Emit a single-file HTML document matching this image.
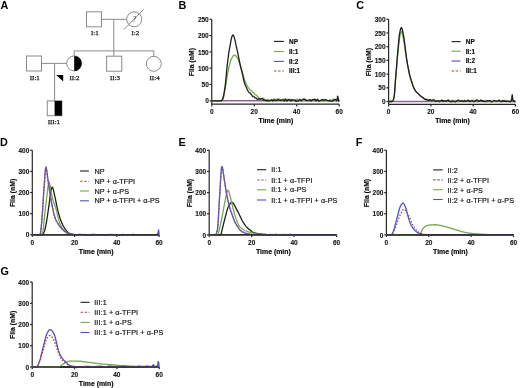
<!DOCTYPE html>
<html><head><meta charset="utf-8"><title>Figure</title>
<style>html,body{margin:0;padding:0;background:#fff;width:520px;height:388px;overflow:hidden}svg{display:block;filter:blur(0.35px)}</style>
</head><body>
<svg width="520" height="388" viewBox="0 0 520 388"><text x="0.6" y="8.8" font-family="'Liberation Sans', sans-serif" font-weight="bold" font-size="10.8" fill="#000">A</text>
<text x="178.6" y="8.8" font-family="'Liberation Sans', sans-serif" font-weight="bold" font-size="10.8" fill="#000">B</text>
<text x="356.2" y="9.0" font-family="'Liberation Sans', sans-serif" font-weight="bold" font-size="10.8" fill="#000">C</text>
<text x="0.0" y="146.3" font-family="'Liberation Sans', sans-serif" font-weight="bold" font-size="10.8" fill="#000">D</text>
<text x="178.6" y="146.3" font-family="'Liberation Sans', sans-serif" font-weight="bold" font-size="10.8" fill="#000">E</text>
<text x="355.8" y="146.1" font-family="'Liberation Sans', sans-serif" font-weight="bold" font-size="10.8" fill="#000">F</text>
<text x="0.4" y="275.2" font-family="'Liberation Sans', sans-serif" font-weight="bold" font-size="10.8" fill="#000">G</text>
<g stroke="#8a8a8a" stroke-width="1" fill="none"><rect x="86.5" y="11.8" width="15" height="15" /><line x1="101.5" y1="19.3" x2="126.7" y2="19.3" /><circle cx="134.2" cy="19.3" r="7.5" /><line x1="123.8" y1="29.6" x2="143.8" y2="9.3" /><line x1="113.8" y1="19.3" x2="113.8" y2="56.2" /><line x1="74.2" y1="50.9" x2="153.8" y2="50.9" /><line x1="74.2" y1="50.9" x2="74.2" y2="55.9" /><line x1="153.8" y1="50.9" x2="153.8" y2="56.3" /><rect x="26.5" y="56" width="15" height="15" /><line x1="41.5" y1="63.4" x2="66.7" y2="63.4" /><circle cx="74.2" cy="63.4" r="7.5" /><line x1="54.6" y1="63.4" x2="54.6" y2="100.9" /><rect x="47.3" y="100.9" width="14.6" height="14.8" /><rect x="106.6" y="56.2" width="15.2" height="15" /><circle cx="153.8" cy="63.8" r="7.5" /></g>
<path d="M74.2,55.9 A7.5,7.5 0 0 1 74.2,70.9 Z" fill="#000"/>
<rect x="54.6" y="100.9" width="7.3" height="14.8" fill="#000"/>
<path d="M56.2,75.1 L63.2,75.1 L63.2,81.4 Z" fill="#000"/>
<text x="134.3" y="22.2" text-anchor="middle" font-family="'Liberation Serif', serif" font-style="italic" font-size="8" fill="#3a3a3a">?</text>
<g font-family="'Liberation Serif', serif" font-size="7" fill="#1a1a1a" stroke="#1a1a1a" stroke-width="0.25" text-anchor="middle"><text x="94.9" y="35.1">I:1</text><text x="135.4" y="35.1">I:2</text><text x="34.8" y="80.3">II:1</text><text x="74.5" y="79.69999999999999">II:2</text><text x="115" y="79.5">II:3</text><text x="154.6" y="79.5">II:4</text><text x="53.9" y="124.39999999999999">III:1</text></g>
<g stroke="#262626" stroke-width="1.2" fill="none"><line x1="211.75" y1="19.3" x2="211.75" y2="104.2" /><line x1="209.55" y1="100.80" x2="211.75" y2="100.80" /><line x1="209.55" y1="84.50" x2="211.75" y2="84.50" /><line x1="209.55" y1="68.20" x2="211.75" y2="68.20" /><line x1="209.55" y1="51.90" x2="211.75" y2="51.90" /><line x1="209.55" y1="35.60" x2="211.75" y2="35.60" /><line x1="209.55" y1="19.30" x2="211.75" y2="19.30" /><line x1="211.75" y1="104.2" x2="339.2" y2="104.2" /><line x1="211.75" y1="104.2" x2="211.75" y2="106.4" /><line x1="254.23" y1="104.2" x2="254.23" y2="106.4" /><line x1="296.72" y1="104.2" x2="296.72" y2="106.4" /><line x1="339.20" y1="104.2" x2="339.20" y2="106.4" /></g>
<g font-family="'Liberation Sans', sans-serif" font-weight="bold" font-size="6.5" fill="#111" stroke="#111" stroke-width="0.1"><text x="208.75" y="103.40" text-anchor="end">0</text><text x="208.75" y="87.10" text-anchor="end">50</text><text x="208.75" y="70.80" text-anchor="end">100</text><text x="208.75" y="54.50" text-anchor="end">150</text><text x="208.75" y="38.20" text-anchor="end">200</text><text x="208.75" y="21.90" text-anchor="end">250</text><text x="211.75" y="114.05" text-anchor="middle">0</text><text x="254.23" y="114.05" text-anchor="middle">20</text><text x="296.72" y="114.05" text-anchor="middle">40</text><text x="339.20" y="114.05" text-anchor="middle">60</text></g>
<text transform="translate(194.15,62.15) rotate(-90)" text-anchor="middle" font-family="'Liberation Sans', sans-serif" font-weight="bold" font-size="6.9" fill="#000" stroke="#000" stroke-width="0.15">FIIa (nM)</text>
<text x="275.98" y="123.10" text-anchor="middle" font-family="'Liberation Sans', sans-serif" font-weight="bold" font-size="6.9" fill="#000" stroke="#000" stroke-width="0.15">Time (min)</text>
<path d="M211.75,100.80 L339.20,100.80" fill="none" stroke="#8a6890" stroke-width="1.625" stroke-linejoin="round" opacity="1.0"/>
<path d="M211.75,100.80 L212.28,100.80 L212.81,100.80 L213.34,100.80 L213.87,100.80 L214.41,100.80 L214.94,100.80 L215.47,100.80 L216.00,100.80 L216.53,100.80 L217.06,100.80 L217.59,100.80 L218.12,100.80 L218.65,100.80 L219.18,100.80 L219.72,100.80 L220.25,100.80 L220.78,100.80 L221.31,100.80 L221.84,100.60 L222.37,100.07 L222.90,99.33 L223.43,98.06 L223.96,95.67 L224.50,92.57 L225.03,89.24 L225.56,86.13 L226.09,83.15 L226.62,79.98 L227.15,76.76 L227.68,73.63 L228.21,70.73 L228.74,68.20 L229.27,65.89 L229.81,63.68 L230.34,61.68 L230.87,60.04 L231.40,58.87 L231.93,57.91 L232.46,57.01 L232.99,56.23 L233.52,55.63 L234.05,55.26 L234.58,55.17 L235.12,55.36 L235.65,55.78 L236.18,56.36 L236.71,57.05 L237.24,57.77 L237.77,58.67 L238.30,59.84 L238.83,61.18 L239.36,62.57 L239.90,64.13 L240.43,65.84 L240.96,67.64 L241.49,69.49 L242.02,71.32 L242.55,73.09 L243.08,74.87 L243.61,76.68 L244.14,78.44 L244.67,80.03 L245.21,81.39 L245.74,82.67 L246.27,83.88 L246.80,84.99 L247.33,86.01 L247.86,86.92 L248.39,87.71 L248.92,88.42 L249.45,89.07 L249.99,89.66 L250.52,90.08 L251.05,90.43 L251.58,90.94 L252.11,91.58 L252.64,92.18 L253.17,92.40 L253.70,92.63 L254.23,93.25 L254.76,94.06 L255.30,94.71 L255.83,94.98 L256.36,95.17 L256.89,95.71 L257.42,96.14 L257.95,96.85 L258.48,97.84 L259.01,98.70 L259.54,98.91 L260.07,99.09 L260.61,99.22 L261.14,99.32 L261.67,99.14 L262.20,98.56 L262.73,97.94 L263.26,98.53 L263.79,99.12 L264.32,99.28 L264.85,99.18 L265.39,99.16 L265.92,99.54 L266.45,99.90 L266.98,99.86 L267.51,99.72 L268.04,99.69 L268.57,99.85 L269.10,100.00 L269.63,100.06 L270.16,100.12 L270.70,100.02 L271.23,99.81 L271.76,99.64 L272.29,99.65 L272.82,99.66 L273.35,99.42 L273.88,99.13 L274.41,99.04 L274.94,99.26 L275.48,99.47 L276.01,99.25 L276.54,99.02 L277.07,98.98 L277.60,99.05 L278.13,99.09 L278.66,98.97 L279.19,98.85 L279.72,99.07 L280.25,99.38 L280.79,99.76 L281.32,100.25 L281.85,100.74 L282.38,100.09 L282.91,99.43 L283.44,99.11 L283.97,99.02 L284.50,98.95 L285.03,99.02 L285.56,99.08 L286.10,99.35 L286.63,99.68 L287.16,99.82 L287.69,99.68 L288.22,99.55 L288.75,100.03 L289.28,100.52 L289.81,100.36 L290.34,99.77 L290.88,99.36 L291.41,99.61 L291.94,99.85 L292.47,100.13 L293.00,100.41 L293.53,100.66 L294.06,100.87 L294.59,101.09 L295.12,100.34 L295.65,99.59 L296.19,99.22 L296.72,99.09 L297.25,99.16 L297.78,100.02 L298.31,100.88 L298.84,100.52 L299.37,99.84 L299.90,99.59 L300.43,99.96 L300.96,100.33 L301.50,100.58 L302.03,100.83 L302.56,100.85 L303.09,100.72 L303.62,100.52 L304.15,100.08 L304.68,99.63 L305.21,99.46 L305.74,99.36 L306.28,99.62 L306.81,100.41 L307.34,101.20 L307.87,100.66 L308.40,100.12 L308.93,100.23 L309.46,100.78 L309.99,101.08 L310.52,100.44 L311.05,99.81 L311.59,99.98 L312.12,100.35 L312.65,100.36 L313.18,99.84 L313.71,99.32 L314.24,99.23 L314.77,99.13 L315.30,99.37 L315.83,99.82 L316.37,100.09 L316.90,99.62 L317.43,99.16 L317.96,99.59 L318.49,100.25 L319.02,100.73 L319.55,100.95 L320.08,101.18 L320.61,100.68 L321.14,100.19 L321.68,100.32 L322.21,100.86 L322.74,101.26 L323.27,101.11 L323.80,100.95 L324.33,100.76 L324.86,100.56 L325.39,100.37 L325.92,100.18 L326.45,99.99 L326.99,100.42 L327.52,100.86 L328.05,101.10 L328.58,101.21 L329.11,101.14 L329.64,100.36 L330.17,99.57 L330.70,99.84 L331.23,100.37 L331.77,100.44 L332.30,99.83 L332.83,99.22 L333.36,99.29 L333.89,99.35 L334.42,99.67 L334.95,100.17 L335.48,100.55 L336.01,100.47 L336.54,100.40 L337.08,100.34 L337.61,100.29 L338.14,100.21 L338.67,100.10 L339.20,99.98" fill="none" stroke="#74a848" stroke-width="1.3" stroke-linejoin="round" opacity="1.0"/>
<path d="M211.75,100.80 L212.28,100.80 L212.81,100.80 L213.34,100.80 L213.87,100.80 L214.41,100.80 L214.94,100.80 L215.47,100.80 L216.00,100.80 L216.53,100.80 L217.06,100.80 L217.59,100.80 L218.12,100.80 L218.65,100.80 L219.18,100.80 L219.72,100.80 L220.25,100.80 L220.78,100.80 L221.31,100.75 L221.84,100.25 L222.37,99.39 L222.90,98.24 L223.43,96.26 L223.96,93.56 L224.50,90.33 L225.03,86.78 L225.56,82.61 L226.09,77.00 L226.62,71.06 L227.15,65.98 L227.68,61.49 L228.21,57.24 L228.74,53.34 L229.27,49.94 L229.81,47.03 L230.34,44.08 L230.87,41.23 L231.40,38.67 L231.93,36.63 L232.46,35.32 L232.99,34.96 L233.52,35.53 L234.05,36.83 L234.58,38.68 L235.12,40.92 L235.65,43.37 L236.18,45.85 L236.71,48.20 L237.24,50.46 L237.77,52.94 L238.30,55.57 L238.83,58.27 L239.36,60.94 L239.90,63.50 L240.43,65.86 L240.96,68.06 L241.49,70.17 L242.02,72.28 L242.55,74.46 L243.08,76.86 L243.61,79.50 L244.14,81.86 L244.67,83.62 L245.21,85.07 L245.74,86.24 L246.27,87.28 L246.80,88.50 L247.33,89.70 L247.86,90.70 L248.39,91.59 L248.92,92.27 L249.45,92.65 L249.99,92.93 L250.52,93.54 L251.05,94.13 L251.58,94.86 L252.11,95.71 L252.64,96.44 L253.17,96.46 L253.70,96.41 L254.23,96.94 L254.76,97.62 L255.30,98.05 L255.83,98.17 L256.36,98.25 L256.89,98.92 L257.42,99.56 L257.95,99.47 L258.48,98.89 L259.01,98.46 L259.54,98.79 L260.07,99.10 L260.61,99.01 L261.14,98.82 L261.67,98.75 L262.20,98.87 L262.73,98.99 L263.26,99.59 L263.79,100.19 L264.32,100.40 L264.85,100.35 L265.39,100.34 L265.92,100.54 L266.45,100.73 L266.98,100.79 L267.51,100.81 L268.04,100.86 L268.57,100.94 L269.10,101.02 L269.63,100.80 L270.16,100.58 L270.70,100.33 L271.23,100.04 L271.76,99.93 L272.29,100.51 L272.82,101.08 L273.35,100.69 L273.88,100.05 L274.41,99.80 L274.94,100.13 L275.48,100.46 L276.01,100.49 L276.54,100.52 L277.07,100.24 L277.60,99.76 L278.13,99.44 L278.66,99.77 L279.19,100.09 L279.72,100.29 L280.25,100.45 L280.79,100.48 L281.32,100.33 L281.85,100.17 L282.38,99.96 L282.91,99.75 L283.44,100.04 L283.97,100.66 L284.50,100.98 L285.03,100.11 L285.56,99.24 L286.10,99.79 L286.63,100.70 L287.16,100.97 L287.69,100.28 L288.22,99.59 L288.75,99.51 L289.28,99.42 L289.81,99.86 L290.34,100.64 L290.88,101.13 L291.41,100.40 L291.94,99.67 L292.47,99.85 L293.00,100.25 L293.53,100.41 L294.06,100.21 L294.59,100.01 L295.12,100.55 L295.65,101.10 L296.19,101.29 L296.72,101.26 L297.25,101.21 L297.78,101.08 L298.31,100.96 L298.84,100.34 L299.37,99.61 L299.90,99.46 L300.43,100.18 L300.96,100.90 L301.50,100.37 L302.03,99.84 L302.56,99.53 L303.09,99.37 L303.62,99.23 L304.15,99.22 L304.68,99.21 L305.21,99.67 L305.74,100.24 L306.28,100.57 L306.81,100.57 L307.34,100.56 L307.87,100.40 L308.40,100.24 L308.93,100.03 L309.46,99.79 L309.99,99.73 L310.52,100.37 L311.05,101.00 L311.59,100.64 L312.12,100.03 L312.65,99.65 L313.18,99.61 L313.71,99.56 L314.24,99.50 L314.77,99.44 L315.30,99.89 L315.83,100.67 L316.37,101.13 L316.90,100.27 L317.43,99.40 L317.96,99.88 L318.49,100.69 L319.02,101.09 L319.55,100.85 L320.08,100.62 L320.61,100.36 L321.14,100.10 L321.68,99.83 L322.21,99.54 L322.74,99.41 L323.27,99.97 L323.80,100.52 L324.33,100.18 L324.86,99.63 L325.39,99.44 L325.92,99.80 L326.45,100.16 L326.99,100.39 L327.52,100.61 L328.05,100.70 L328.58,100.69 L329.11,100.72 L329.64,100.85 L330.17,100.99 L330.70,101.09 L331.23,101.19 L331.77,101.22 L332.30,101.15 L332.83,101.09 L333.36,100.58 L333.89,100.06 L334.42,99.68 L334.95,99.39 L335.48,99.32 L336.01,100.12 L336.54,100.91 L337.08,99.69 L337.61,96.14 L338.14,98.05 L338.67,101.18 L339.20,99.64" fill="none" stroke="#1e1e1e" stroke-width="1.3" stroke-linejoin="round" opacity="1.0"/>
<line x1="274" y1="41.4" x2="283.9" y2="41.4" stroke="#1e1e1e" stroke-width="1.1"/><text x="289.1" y="43.70" letter-spacing="0.0" font-family="'Liberation Sans', sans-serif" font-size="6.4" font-weight="bold" fill="#111" stroke="#111" stroke-width="0.18">NP</text><line x1="274" y1="51.5" x2="283.9" y2="51.5" stroke="#74a848" stroke-width="1.1"/><text x="289.1" y="53.80" letter-spacing="0.0" font-family="'Liberation Sans', sans-serif" font-size="6.4" font-weight="bold" fill="#111" stroke="#111" stroke-width="0.18">II:1</text><line x1="274" y1="61.4" x2="283.9" y2="61.4" stroke="#5050c8" stroke-width="1.1"/><text x="289.1" y="63.70" letter-spacing="0.0" font-family="'Liberation Sans', sans-serif" font-size="6.4" font-weight="bold" fill="#111" stroke="#111" stroke-width="0.18">II:2</text><line x1="274" y1="71.0" x2="283.9" y2="71.0" stroke="#98553c" stroke-width="1.1" stroke-dasharray="2.5,1.6"/><text x="289.1" y="73.30" letter-spacing="0.0" font-family="'Liberation Sans', sans-serif" font-size="6.4" font-weight="bold" fill="#111" stroke="#111" stroke-width="0.18">III:1</text>
<g stroke="#262626" stroke-width="1.2" fill="none"><line x1="388.6" y1="19.3" x2="388.6" y2="104.3" /><line x1="386.40000000000003" y1="101.50" x2="388.6" y2="101.50" /><line x1="386.40000000000003" y1="87.80" x2="388.6" y2="87.80" /><line x1="386.40000000000003" y1="74.10" x2="388.6" y2="74.10" /><line x1="386.40000000000003" y1="60.40" x2="388.6" y2="60.40" /><line x1="386.40000000000003" y1="46.70" x2="388.6" y2="46.70" /><line x1="386.40000000000003" y1="33.00" x2="388.6" y2="33.00" /><line x1="386.40000000000003" y1="19.30" x2="388.6" y2="19.30" /><line x1="388.6" y1="104.3" x2="515.4" y2="104.3" /><line x1="388.60" y1="104.3" x2="388.60" y2="106.5" /><line x1="430.87" y1="104.3" x2="430.87" y2="106.5" /><line x1="473.13" y1="104.3" x2="473.13" y2="106.5" /><line x1="515.40" y1="104.3" x2="515.40" y2="106.5" /></g>
<g font-family="'Liberation Sans', sans-serif" font-weight="bold" font-size="6.5" fill="#111" stroke="#111" stroke-width="0.1"><text x="385.60" y="104.10" text-anchor="end">0</text><text x="385.60" y="90.40" text-anchor="end">50</text><text x="385.60" y="76.70" text-anchor="end">100</text><text x="385.60" y="63.00" text-anchor="end">150</text><text x="385.60" y="49.30" text-anchor="end">200</text><text x="385.60" y="35.60" text-anchor="end">250</text><text x="385.60" y="21.90" text-anchor="end">300</text><text x="388.60" y="114.15" text-anchor="middle">0</text><text x="430.87" y="114.15" text-anchor="middle">20</text><text x="473.13" y="114.15" text-anchor="middle">40</text><text x="515.40" y="114.15" text-anchor="middle">60</text></g>
<text transform="translate(371.00,62.20) rotate(-90)" text-anchor="middle" font-family="'Liberation Sans', sans-serif" font-weight="bold" font-size="6.9" fill="#000" stroke="#000" stroke-width="0.15">FIIa (nM)</text>
<text x="452.50" y="123.20" text-anchor="middle" font-family="'Liberation Sans', sans-serif" font-weight="bold" font-size="6.9" fill="#000" stroke="#000" stroke-width="0.15">Time (min)</text>
<path d="M388.60,101.50 L515.40,101.50" fill="none" stroke="#8a6890" stroke-width="1.625" stroke-linejoin="round" opacity="1.0"/>
<path d="M388.60,101.50 L389.13,101.50 L389.66,101.50 L390.19,101.50 L390.71,101.50 L391.24,101.50 L391.77,101.50 L392.30,101.40 L392.83,100.86 L393.36,99.99 L393.88,98.03 L394.41,94.77 L394.94,88.39 L395.47,80.81 L396.00,75.03 L396.53,68.90 L397.05,62.31 L397.58,56.47 L398.11,51.09 L398.64,45.39 L399.17,39.94 L399.69,36.91 L400.22,34.39 L400.75,32.52 L401.28,31.63 L401.81,32.02 L402.34,33.64 L402.87,36.00 L403.39,38.59 L403.92,41.49 L404.45,45.15 L404.98,48.80 L405.51,52.10 L406.04,55.31 L406.56,58.48 L407.09,61.68 L407.62,64.83 L408.15,67.75 L408.68,70.47 L409.21,73.04 L409.73,75.35 L410.26,77.32 L410.79,79.03 L411.32,80.62 L411.85,82.23 L412.38,83.91 L412.90,85.53 L413.43,86.94 L413.96,88.13 L414.49,89.19 L415.02,90.20 L415.55,91.03 L416.07,91.61 L416.60,92.08 L417.13,92.67 L417.66,93.25 L418.19,93.76 L418.72,94.25 L419.24,94.75 L419.77,95.27 L420.30,95.83 L420.83,96.31 L421.36,96.78 L421.88,97.11 L422.41,97.30 L422.94,97.52 L423.47,98.18 L424.00,98.82 L424.53,98.93 L425.06,98.86 L425.58,98.84 L426.11,98.95 L426.64,99.04 L427.17,99.40 L427.70,99.74 L428.23,99.86 L428.75,99.83 L429.28,99.90 L429.81,100.39 L430.34,100.88 L430.87,101.06 L431.39,101.15 L431.92,101.19 L432.45,101.15 L432.98,101.10 L433.51,100.78 L434.04,100.44 L434.56,100.44 L435.09,100.66 L435.62,100.84 L436.15,100.94 L436.68,101.04 L437.21,100.89 L437.74,100.68 L438.26,100.60 L438.79,100.71 L439.32,100.82 L439.85,100.95 L440.38,101.08 L440.90,100.90 L441.43,100.51 L441.96,100.21 L442.49,100.29 L443.02,100.37 L443.55,100.69 L444.07,101.06 L444.60,101.17 L445.13,100.91 L445.66,100.66 L446.19,100.70 L446.72,100.74 L447.25,100.60 L447.77,100.32 L448.30,100.13 L448.83,100.25 L449.36,100.37 L449.89,100.68 L450.42,101.03 L450.94,101.03 L451.47,100.48 L452.00,99.93 L452.53,100.62 L453.06,101.32 L453.58,101.45 L454.11,101.22 L454.64,100.97 L455.17,100.71 L455.70,100.44 L456.23,100.77 L456.75,101.26 L457.28,101.45 L457.81,101.18 L458.34,100.92 L458.87,101.28 L459.40,101.64 L459.93,101.49 L460.45,100.99 L460.98,100.57 L461.51,100.50 L462.04,100.42 L462.57,100.53 L463.09,100.69 L463.62,100.69 L464.15,100.45 L464.68,100.21 L465.21,100.66 L465.74,101.11 L466.26,101.11 L466.79,100.81 L467.32,100.58 L467.85,100.66 L468.38,100.75 L468.91,100.77 L469.44,100.79 L469.96,100.84 L470.49,100.94 L471.02,101.04 L471.55,100.73 L472.08,100.43 L472.61,100.26 L473.13,100.17 L473.66,100.18 L474.19,100.56 L474.72,100.94 L475.25,100.89 L475.77,100.74 L476.30,100.85 L476.83,101.33 L477.36,101.82 L477.89,101.30 L478.42,100.79 L478.94,100.62 L479.47,100.66 L480.00,100.64 L480.53,100.37 L481.06,100.09 L481.59,100.15 L482.12,100.29 L482.64,100.54 L483.17,100.97 L483.70,101.40 L484.23,101.32 L484.76,101.24 L485.28,101.08 L485.81,100.85 L486.34,100.78 L486.87,101.29 L487.40,101.81 L487.93,101.63 L488.45,101.28 L488.98,101.17 L489.51,101.41 L490.04,101.64 L490.57,101.68 L491.10,101.73 L491.62,101.77 L492.15,101.82 L492.68,101.74 L493.21,101.18 L493.74,100.61 L494.27,100.91 L494.79,101.42 L495.32,101.69 L495.85,101.60 L496.38,101.50 L496.91,101.39 L497.44,101.28 L497.96,101.00 L498.49,100.62 L499.02,100.44 L499.55,101.07 L500.08,101.71 L500.61,101.60 L501.13,101.31 L501.66,101.10 L502.19,101.02 L502.72,100.94 L503.25,100.68 L503.78,100.41 L504.30,100.34 L504.83,100.39 L505.36,100.43 L505.89,100.39 L506.42,100.36 L506.95,100.73 L507.47,101.20 L508.00,101.44 L508.53,101.33 L509.06,101.22 L509.59,101.27 L510.12,101.32 L510.64,101.09 L511.17,100.67 L511.70,100.32 L512.23,100.27 L512.76,100.21 L513.29,100.72 L513.81,101.36 L514.34,101.75 L514.87,101.73 L515.40,101.71" fill="none" stroke="#74a848" stroke-width="1.3" stroke-linejoin="round" opacity="1.0"/>
<path d="M388.60,101.50 L389.13,101.50 L389.66,101.50 L390.19,101.50 L390.71,101.50 L391.24,101.50 L391.77,101.50 L392.30,101.39 L392.83,100.82 L393.36,99.91 L393.88,97.83 L394.41,94.38 L394.94,87.63 L395.47,79.61 L396.00,73.49 L396.53,67.00 L397.05,60.03 L397.58,53.85 L398.11,48.15 L398.64,42.13 L399.17,36.36 L399.69,33.16 L400.22,30.48 L400.75,28.51 L401.28,27.56 L401.81,27.97 L402.34,29.69 L402.87,32.18 L403.39,34.93 L403.92,37.93 L404.45,41.70 L404.98,45.72 L405.51,49.97 L406.04,54.45 L406.56,58.48 L407.09,61.86 L407.62,64.91 L408.15,67.75 L408.68,70.47 L409.21,73.04 L409.73,75.35 L410.26,77.32 L410.79,79.03 L411.32,80.62 L411.85,82.23 L412.38,83.91 L412.90,85.53 L413.43,86.94 L413.96,88.13 L414.49,89.18 L415.02,90.11 L415.55,90.92 L416.07,91.63 L416.60,92.24 L417.13,92.67 L417.66,93.04 L418.19,93.57 L418.72,94.19 L419.24,94.75 L419.77,95.20 L420.30,95.66 L420.83,96.05 L421.36,96.41 L421.88,96.81 L422.41,97.22 L422.94,97.61 L423.47,98.07 L424.00,98.49 L424.53,98.93 L425.06,99.38 L425.58,99.68 L426.11,99.73 L426.64,99.75 L427.17,99.94 L427.70,100.12 L428.23,100.22 L428.75,100.27 L429.28,100.25 L429.81,99.93 L430.34,99.61 L430.87,100.01 L431.39,100.59 L431.92,100.75 L432.45,100.28 L432.98,99.79 L433.51,99.85 L434.04,99.90 L434.56,100.33 L435.09,101.00 L435.62,101.49 L436.15,101.24 L436.68,100.98 L437.21,100.87 L437.74,100.78 L438.26,100.88 L438.79,101.26 L439.32,101.64 L439.85,101.33 L440.38,101.02 L440.90,100.66 L441.43,100.28 L441.96,100.11 L442.49,100.75 L443.02,101.39 L443.55,101.21 L444.07,100.83 L444.60,100.75 L445.13,101.14 L445.66,101.52 L446.19,101.16 L446.72,100.80 L447.25,100.51 L447.77,100.26 L448.30,100.17 L448.83,100.73 L449.36,101.29 L449.89,101.53 L450.42,101.69 L450.94,101.76 L451.47,101.71 L452.00,101.65 L452.53,101.29 L453.06,100.93 L453.58,101.04 L454.11,101.46 L454.64,101.79 L455.17,101.74 L455.70,101.68 L456.23,101.41 L456.75,101.09 L457.28,100.76 L457.81,100.42 L458.34,100.09 L458.87,100.49 L459.40,100.89 L459.93,101.07 L460.45,101.09 L460.98,101.07 L461.51,100.88 L462.04,100.69 L462.57,101.00 L463.09,101.44 L463.62,101.55 L464.15,101.16 L464.68,100.77 L465.21,101.10 L465.74,101.43 L466.26,101.35 L466.79,101.01 L467.32,100.67 L467.85,100.40 L468.38,100.12 L468.91,100.64 L469.44,101.37 L469.96,101.64 L470.49,101.25 L471.02,100.85 L471.55,100.81 L472.08,100.77 L472.61,100.97 L473.13,101.34 L473.66,101.62 L474.19,101.52 L474.72,101.43 L475.25,100.95 L475.77,100.37 L476.30,100.02 L476.83,100.02 L477.36,100.02 L477.89,100.72 L478.42,101.42 L478.94,101.42 L479.47,100.96 L480.00,100.55 L480.53,100.35 L481.06,100.16 L481.59,100.58 L482.12,101.15 L482.64,101.37 L483.17,101.07 L483.70,100.78 L484.23,101.23 L484.76,101.69 L485.28,101.71 L485.81,101.46 L486.34,101.20 L486.87,100.96 L487.40,100.71 L487.93,100.72 L488.45,100.79 L488.98,100.77 L489.51,100.62 L490.04,100.48 L490.57,101.03 L491.10,101.58 L491.62,101.68 L492.15,101.47 L492.68,101.22 L493.21,100.81 L493.74,100.40 L494.27,100.50 L494.79,100.72 L495.32,100.90 L495.85,101.01 L496.38,101.11 L496.91,101.15 L497.44,101.19 L497.96,100.93 L498.49,100.47 L499.02,100.16 L499.55,100.49 L500.08,100.82 L500.61,101.24 L501.13,101.69 L501.66,101.71 L502.19,101.09 L502.72,100.46 L503.25,100.84 L503.78,101.22 L504.30,101.32 L504.83,101.24 L505.36,101.21 L505.89,101.39 L506.42,101.56 L506.95,101.45 L507.47,101.27 L508.00,101.20 L508.53,101.30 L509.06,101.40 L509.59,101.59 L510.12,101.78 L510.64,101.60 L511.17,101.17 L511.70,98.44 L512.23,94.75 L512.76,99.29 L513.29,101.40 L513.81,100.86 L514.34,100.78 L514.87,101.39 L515.40,102.00" fill="none" stroke="#1e1e1e" stroke-width="1.3" stroke-linejoin="round" opacity="1.0"/>
<line x1="451.6" y1="41.6" x2="460.6" y2="41.6" stroke="#1e1e1e" stroke-width="1.1"/><text x="465.8" y="43.90" letter-spacing="0.0" font-family="'Liberation Sans', sans-serif" font-size="6.4" font-weight="bold" fill="#111" stroke="#111" stroke-width="0.18">NP</text><line x1="451.6" y1="51.2" x2="460.6" y2="51.2" stroke="#74a848" stroke-width="1.1"/><text x="465.8" y="53.50" letter-spacing="0.0" font-family="'Liberation Sans', sans-serif" font-size="6.4" font-weight="bold" fill="#111" stroke="#111" stroke-width="0.18">II:1</text><line x1="451.6" y1="61.0" x2="460.6" y2="61.0" stroke="#5050c8" stroke-width="1.1"/><text x="465.8" y="63.30" letter-spacing="0.0" font-family="'Liberation Sans', sans-serif" font-size="6.4" font-weight="bold" fill="#111" stroke="#111" stroke-width="0.18">II:2</text><line x1="451.6" y1="71.0" x2="460.6" y2="71.0" stroke="#98553c" stroke-width="1.1" stroke-dasharray="2.5,1.6"/><text x="465.8" y="73.30" letter-spacing="0.0" font-family="'Liberation Sans', sans-serif" font-size="6.4" font-weight="bold" fill="#111" stroke="#111" stroke-width="0.18">III:1</text>
<g stroke="#262626" stroke-width="1.2" fill="none"><line x1="32.3" y1="150.3" x2="32.3" y2="234.8" /><line x1="30.099999999999998" y1="234.80" x2="32.3" y2="234.80" /><line x1="30.099999999999998" y1="213.68" x2="32.3" y2="213.68" /><line x1="30.099999999999998" y1="192.55" x2="32.3" y2="192.55" /><line x1="30.099999999999998" y1="171.43" x2="32.3" y2="171.43" /><line x1="30.099999999999998" y1="150.30" x2="32.3" y2="150.30" /><line x1="32.3" y1="234.8" x2="159.1" y2="234.8" /><line x1="32.30" y1="234.8" x2="32.30" y2="237.0" /><line x1="74.57" y1="234.8" x2="74.57" y2="237.0" /><line x1="116.83" y1="234.8" x2="116.83" y2="237.0" /><line x1="159.10" y1="234.8" x2="159.10" y2="237.0" /></g>
<g font-family="'Liberation Sans', sans-serif" font-weight="bold" font-size="6.5" fill="#111" stroke="#111" stroke-width="0.1"><text x="29.30" y="237.40" text-anchor="end">0</text><text x="29.30" y="216.28" text-anchor="end">100</text><text x="29.30" y="195.15" text-anchor="end">200</text><text x="29.30" y="174.03" text-anchor="end">300</text><text x="29.30" y="152.90" text-anchor="end">400</text><text x="32.30" y="244.65" text-anchor="middle">0</text><text x="74.57" y="244.65" text-anchor="middle">20</text><text x="116.83" y="244.65" text-anchor="middle">40</text><text x="159.10" y="244.65" text-anchor="middle">60</text></g>
<text transform="translate(14.70,192.95) rotate(-90)" text-anchor="middle" font-family="'Liberation Sans', sans-serif" font-weight="bold" font-size="6.9" fill="#000" stroke="#000" stroke-width="0.15">FIIa (nM)</text>
<text x="96.20" y="253.70" text-anchor="middle" font-family="'Liberation Sans', sans-serif" font-weight="bold" font-size="6.9" fill="#000" stroke="#000" stroke-width="0.15">Time (min)</text>
<path d="M32.30,234.80 L32.83,234.80 L33.36,234.80 L33.88,234.80 L34.41,234.80 L34.94,234.80 L35.47,234.80 L36.00,234.80 L36.53,234.80 L37.05,234.80 L37.58,234.80 L38.11,234.80 L38.64,234.80 L39.17,234.80 L39.70,234.80 L40.22,234.80 L40.75,234.80 L41.28,234.80 L41.81,234.80 L42.34,234.61 L42.87,234.10 L43.39,233.35 L43.92,232.44 L44.45,231.29 L44.98,229.39 L45.51,227.00 L46.04,224.46 L46.56,221.54 L47.09,218.25 L47.62,214.79 L48.15,211.22 L48.68,207.43 L49.21,203.56 L49.73,199.69 L50.26,195.54 L50.79,192.02 L51.32,189.47 L51.85,187.47 L52.38,187.16 L52.91,188.20 L53.43,190.08 L53.96,192.44 L54.49,194.93 L55.02,197.21 L55.55,199.62 L56.07,202.26 L56.60,204.96 L57.13,207.56 L57.66,209.87 L58.19,211.95 L58.72,213.94 L59.24,215.81 L59.77,217.53 L60.30,219.09 L60.83,220.50 L61.36,221.83 L61.89,223.09 L62.41,224.26 L62.94,225.34 L63.47,226.32 L64.00,227.20 L64.53,228.00 L65.06,228.77 L65.58,229.51 L66.11,230.20 L66.64,230.84 L67.17,231.42 L67.70,231.93 L68.23,232.38 L68.75,232.76 L69.28,233.10 L69.81,233.42 L70.34,233.72 L70.87,233.97 L71.40,234.18 L71.92,234.32 L72.45,234.40 L72.98,234.47 L73.51,234.52 L74.04,234.57 L74.57,234.61 L75.09,234.65 L75.62,234.68 L76.15,234.70 L76.68,234.72 L77.21,234.69 L77.74,234.64 L78.27,234.61 L78.79,234.60 L79.32,234.59 L79.85,234.59 L80.38,234.60 L80.91,234.61 L81.44,234.63 L81.96,234.66 L82.49,234.72 L83.02,234.79 L83.55,234.82 L84.08,234.84 L84.60,234.85 L85.13,234.84 L85.66,234.85 L86.19,234.91 L86.72,234.97 L87.25,234.85 L87.78,234.67 L88.30,234.60 L88.83,234.70 L89.36,234.79 L89.89,234.68 L90.42,234.56 L90.94,234.59 L91.47,234.71 L92.00,234.78 L92.53,234.63 L93.06,234.48 L93.59,234.47 L94.12,234.50 L94.64,234.61 L95.17,234.84 L95.70,235.06 L96.23,235.01 L96.76,234.95 L97.28,234.82 L97.81,234.64 L98.34,234.51 L98.87,234.63 L99.40,234.75 L99.93,234.66 L100.45,234.53 L100.98,234.51 L101.51,234.66 L102.04,234.82 L102.57,234.91 L103.10,234.99 L103.62,234.94 L104.15,234.79 L104.68,234.67 L105.21,234.63 L105.74,234.59 L106.27,234.69 L106.79,234.83 L107.32,234.93 L107.85,234.97 L108.38,235.02 L108.91,234.96 L109.44,234.90 L109.96,234.77 L110.49,234.60 L111.02,234.48 L111.55,234.54 L112.08,234.59 L112.61,234.74 L113.13,234.91 L113.66,235.00 L114.19,234.96 L114.72,234.93 L115.25,234.97 L115.78,235.01 L116.31,235.03 L116.83,235.04 L117.36,235.01 L117.89,234.82 L118.42,234.62 L118.95,234.71 L119.47,234.88 L120.00,234.94 L120.53,234.84 L121.06,234.74 L121.59,234.76 L122.12,234.79 L122.64,234.85 L123.17,234.92 L123.70,234.94 L124.23,234.80 L124.76,234.66 L125.29,234.76 L125.81,234.91 L126.34,234.96 L126.87,234.82 L127.40,234.69 L127.93,234.82 L128.46,234.96 L128.98,234.97 L129.51,234.89 L130.04,234.84 L130.57,234.89 L131.10,234.95 L131.63,234.95 L132.16,234.93 L132.68,234.85 L133.21,234.67 L133.74,234.48 L134.27,234.53 L134.80,234.57 L135.32,234.67 L135.85,234.80 L136.38,234.87 L136.91,234.72 L137.44,234.57 L137.97,234.68 L138.50,234.86 L139.02,234.95 L139.55,234.90 L140.08,234.85 L140.61,234.73 L141.14,234.61 L141.66,234.59 L142.19,234.65 L142.72,234.72 L143.25,234.87 L143.78,235.01 L144.31,234.85 L144.83,234.62 L145.36,234.56 L145.89,234.76 L146.42,234.97 L146.95,234.96 L147.48,234.95 L148.00,234.86 L148.53,234.72 L149.06,234.64 L149.59,234.76 L150.12,234.88 L150.65,234.91 L151.18,234.92 L151.70,234.94 L152.23,235.00 L152.76,235.06 L153.29,235.06 L153.82,235.06 L154.34,234.98 L154.87,234.85 L155.40,234.76 L155.93,234.85 L156.46,234.94 L156.99,234.88 L157.51,234.79 L158.04,234.76 L158.57,234.82 L159.10,234.88" fill="none" stroke="#1e1e1e" stroke-width="1.3" stroke-linejoin="round" opacity="1.0"/>
<path d="M32.30,234.80 L32.83,234.80 L33.36,234.80 L33.88,234.80 L34.41,234.80 L34.94,234.80 L35.47,234.80 L36.00,234.80 L36.53,234.80 L37.05,234.80 L37.58,234.80 L38.11,234.80 L38.64,234.80 L39.17,234.80 L39.70,234.80 L40.22,234.80 L40.75,234.78 L41.28,234.51 L41.81,233.98 L42.34,233.23 L42.87,232.00 L43.39,228.10 L43.92,222.40 L44.45,216.51 L44.98,211.72 L45.51,207.19 L46.04,202.76 L46.56,198.54 L47.09,194.48 L47.62,189.84 L48.15,185.47 L48.68,182.55 L49.21,182.20 L49.73,184.15 L50.26,187.12 L50.79,189.88 L51.32,192.63 L51.85,195.48 L52.38,198.03 L52.91,200.01 L53.43,201.66 L53.96,203.11 L54.49,204.46 L55.02,205.82 L55.55,207.29 L56.07,208.96 L56.60,210.97 L57.13,213.21 L57.66,215.54 L58.19,217.82 L58.72,219.89 L59.24,221.62 L59.77,223.01 L60.30,224.30 L60.83,225.49 L61.36,226.58 L61.89,227.55 L62.41,228.39 L62.94,229.10 L63.47,229.71 L64.00,230.28 L64.53,230.80 L65.06,231.28 L65.58,231.71 L66.11,232.08 L66.64,232.41 L67.17,232.69 L67.70,232.93 L68.23,233.16 L68.75,233.38 L69.28,233.58 L69.81,233.77 L70.34,233.94 L70.87,234.08 L71.40,234.21 L71.92,234.30 L72.45,234.38 L72.98,234.44 L73.51,234.49 L74.04,234.54 L74.57,234.59 L75.09,234.64 L75.62,234.68 L76.15,234.72 L76.68,234.78 L77.21,234.78 L77.74,234.77 L78.27,234.79 L78.79,234.85 L79.32,234.90 L79.85,234.90 L80.38,234.90 L80.91,234.84 L81.44,234.75 L81.96,234.71 L82.49,234.77 L83.02,234.84 L83.55,234.84 L84.08,234.84 L84.60,234.82 L85.13,234.78 L85.66,234.75 L86.19,234.78 L86.72,234.81 L87.25,234.83 L87.78,234.86 L88.30,234.91 L88.83,235.00 L89.36,235.10 L89.89,234.91 L90.42,234.73 L90.94,234.62 L91.47,234.55 L92.00,234.50 L92.53,234.50 L93.06,234.50 L93.59,234.56 L94.12,234.65 L94.64,234.73 L95.17,234.81 L95.70,234.89 L96.23,234.89 L96.76,234.89 L97.28,234.83 L97.81,234.75 L98.34,234.68 L98.87,234.68 L99.40,234.69 L99.93,234.81 L100.45,234.96 L100.98,235.03 L101.51,235.00 L102.04,234.97 L102.57,234.93 L103.10,234.90 L103.62,234.86 L104.15,234.82 L104.68,234.78 L105.21,234.70 L105.74,234.62 L106.27,234.67 L106.79,234.75 L107.32,234.85 L107.85,234.97 L108.38,235.10 L108.91,234.89 L109.44,234.68 L109.96,234.66 L110.49,234.76 L111.02,234.84 L111.55,234.82 L112.08,234.79 L112.61,234.85 L113.13,234.93 L113.66,234.95 L114.19,234.90 L114.72,234.85 L115.25,234.86 L115.78,234.87 L116.31,234.81 L116.83,234.71 L117.36,234.66 L117.89,234.84 L118.42,235.02 L118.95,234.96 L119.47,234.84 L120.00,234.81 L120.53,234.91 L121.06,235.00 L121.59,234.87 L122.12,234.73 L122.64,234.78 L123.17,234.95 L123.70,235.08 L124.23,235.02 L124.76,234.95 L125.29,234.93 L125.81,234.91 L126.34,234.87 L126.87,234.79 L127.40,234.71 L127.93,234.87 L128.46,235.02 L128.98,235.02 L129.51,234.91 L130.04,234.84 L130.57,234.91 L131.10,234.97 L131.63,234.97 L132.16,234.95 L132.68,234.92 L133.21,234.87 L133.74,234.82 L134.27,234.69 L134.80,234.56 L135.32,234.58 L135.85,234.71 L136.38,234.79 L136.91,234.66 L137.44,234.54 L137.97,234.68 L138.50,234.89 L139.02,234.93 L139.55,234.73 L140.08,234.53 L140.61,234.68 L141.14,234.83 L141.66,234.91 L142.19,234.96 L142.72,234.97 L143.25,234.82 L143.78,234.67 L144.31,234.61 L144.83,234.56 L145.36,234.63 L145.89,234.87 L146.42,235.11 L146.95,235.04 L147.48,234.97 L148.00,234.87 L148.53,234.73 L149.06,234.65 L149.59,234.76 L150.12,234.88 L150.65,234.92 L151.18,234.95 L151.70,234.99 L152.23,235.05 L152.76,235.11 L153.29,235.10 L153.82,235.09 L154.34,235.00 L154.87,234.85 L155.40,234.71 L155.93,234.61 L156.46,234.51 L156.99,234.49 L157.51,234.49 L158.04,234.54 L158.57,234.67 L159.10,234.80" fill="none" stroke="#74a848" stroke-width="1.3" stroke-linejoin="round" opacity="1.0"/>
<path d="M32.30,234.80 L32.83,234.80 L33.36,234.80 L33.88,234.80 L34.41,234.80 L34.94,234.80 L35.47,234.80 L36.00,234.80 L36.53,234.80 L37.05,234.80 L37.58,234.80 L38.11,234.80 L38.64,234.80 L39.17,234.80 L39.70,234.61 L40.22,233.93 L40.75,231.44 L41.28,226.62 L41.81,220.53 L42.34,213.53 L42.87,205.70 L43.39,197.27 L43.92,189.32 L44.45,182.03 L44.98,174.29 L45.51,168.42 L46.04,166.88 L46.56,169.13 L47.09,173.12 L47.62,177.26 L48.15,180.74 L48.68,184.29 L49.21,187.85 L49.73,191.34 L50.26,194.86 L50.79,198.29 L51.32,201.42 L51.85,204.23 L52.38,206.83 L52.91,209.25 L53.43,211.55 L53.96,213.80 L54.49,215.87 L55.02,217.61 L55.55,218.98 L56.07,220.19 L56.60,221.27 L57.13,222.24 L57.66,223.14 L58.19,223.98 L58.72,224.78 L59.24,225.52 L59.77,226.23 L60.30,226.89 L60.83,227.52 L61.36,228.11 L61.89,228.69 L62.41,229.26 L62.94,229.81 L63.47,230.33 L64.00,230.81 L64.53,231.25 L65.06,231.63 L65.58,231.97 L66.11,232.30 L66.64,232.62 L67.17,232.91 L67.70,233.17 L68.23,233.40 L68.75,233.59 L69.28,233.74 L69.81,233.87 L70.34,234.00 L70.87,234.12 L71.40,234.23 L71.92,234.33 L72.45,234.42 L72.98,234.50 L73.51,234.55 L74.04,234.59 L74.57,234.61 L75.09,234.63 L75.62,234.65 L76.15,234.69 L76.68,234.72 L77.21,234.64 L77.74,234.53 L78.27,234.49 L78.79,234.49 L79.32,234.48 L79.85,234.44 L80.38,234.39 L80.91,234.42 L81.44,234.48 L81.96,234.54 L82.49,234.57 L83.02,234.61 L83.55,234.56 L84.08,234.51 L84.60,234.59 L85.13,234.75 L85.66,234.86 L86.19,234.72 L86.72,234.57 L87.25,234.60 L87.78,234.66 L88.30,234.73 L88.83,234.80 L89.36,234.87 L89.89,234.87 L90.42,234.87 L90.94,234.81 L91.47,234.73 L92.00,234.68 L92.53,234.75 L93.06,234.83 L93.59,234.80 L94.12,234.75 L94.64,234.70 L95.17,234.66 L95.70,234.63 L96.23,234.68 L96.76,234.74 L97.28,234.81 L97.81,234.88 L98.34,234.92 L98.87,234.82 L99.40,234.73 L99.93,234.77 L100.45,234.84 L100.98,234.88 L101.51,234.88 L102.04,234.88 L102.57,234.89 L103.10,234.90 L103.62,234.88 L104.15,234.84 L104.68,234.82 L105.21,234.90 L105.74,234.98 L106.27,234.87 L106.79,234.72 L107.32,234.60 L107.85,234.52 L108.38,234.44 L108.91,234.59 L109.44,234.74 L109.96,234.75 L110.49,234.66 L111.02,234.58 L111.55,234.53 L112.08,234.47 L112.61,234.65 L113.13,234.88 L113.66,235.02 L114.19,234.99 L114.72,234.96 L115.25,234.79 L115.78,234.62 L116.31,234.54 L116.83,234.53 L117.36,234.54 L117.89,234.59 L118.42,234.64 L118.95,234.76 L119.47,234.88 L120.00,234.93 L120.53,234.87 L121.06,234.80 L121.59,234.68 L122.12,234.56 L122.64,234.51 L123.17,234.51 L123.70,234.51 L124.23,234.53 L124.76,234.55 L125.29,234.69 L125.81,234.84 L126.34,234.87 L126.87,234.70 L127.40,234.53 L127.93,234.66 L128.46,234.78 L128.98,234.78 L129.51,234.69 L130.04,234.65 L130.57,234.80 L131.10,234.96 L131.63,234.81 L132.16,234.59 L132.68,234.50 L133.21,234.60 L133.74,234.69 L134.27,234.66 L134.80,234.63 L135.32,234.70 L135.85,234.84 L136.38,234.92 L136.91,234.82 L137.44,234.71 L137.97,234.70 L138.50,234.71 L139.02,234.71 L139.55,234.71 L140.08,234.71 L140.61,234.77 L141.14,234.83 L141.66,234.80 L142.19,234.70 L142.72,234.65 L143.25,234.75 L143.78,234.85 L144.31,234.88 L144.83,234.90 L145.36,234.92 L145.89,234.95 L146.42,234.99 L146.95,234.85 L147.48,234.72 L148.00,234.75 L148.53,234.90 L149.06,235.02 L149.59,234.99 L150.12,234.96 L150.65,234.99 L151.18,235.03 L151.70,235.00 L152.23,234.85 L152.76,234.70 L153.29,234.72 L153.82,234.74 L154.34,234.76 L154.87,234.76 L155.40,234.79 L155.93,234.92 L156.46,235.06 L156.99,235.00 L157.51,234.90 L158.04,232.40 L158.57,229.98 L159.10,234.08" fill="none" stroke="#5050c8" stroke-width="1.3" stroke-linejoin="round" opacity="1.0"/>
<path d="M32.30,234.80 L32.83,234.80 L33.36,234.80 L33.88,234.80 L34.41,234.80 L34.94,234.80 L35.47,234.80 L36.00,234.80 L36.53,234.80 L37.05,234.80 L37.58,234.80 L38.11,234.80 L38.64,234.80 L39.17,234.80 L39.70,234.61 L40.22,233.94 L40.75,231.49 L41.28,226.75 L41.81,220.74 L42.34,213.85 L42.87,206.14 L43.39,197.83 L43.92,190.00 L44.45,182.82 L44.98,175.20 L45.51,169.42 L46.04,167.90 L46.56,170.11 L47.09,174.04 L47.62,178.13 L48.15,181.55 L48.68,185.05 L49.21,188.55 L49.73,191.99 L50.26,195.46 L50.79,198.84 L51.32,201.92 L51.85,204.69 L52.38,207.25 L52.91,209.64 L53.43,211.90 L53.96,214.12 L54.49,216.15 L55.02,217.86 L55.55,219.22 L56.07,220.41 L56.60,221.47 L57.13,222.43 L57.66,223.31 L58.19,224.14 L58.72,224.93 L59.24,225.66 L59.77,226.36 L60.30,227.01 L60.83,227.63 L61.36,228.21 L61.89,228.78 L62.41,229.34 L62.94,229.88 L63.47,230.40 L64.00,230.87 L64.53,231.30 L65.06,231.68 L65.58,232.02 L66.11,232.34 L66.64,232.65 L67.17,232.93 L67.70,233.19 L68.23,233.42 L68.75,233.61 L69.28,233.76 L69.81,233.89 L70.34,234.01 L70.87,234.13 L71.40,234.23 L71.92,234.33 L72.45,234.42 L72.98,234.49 L73.51,234.54 L74.04,234.58 L74.57,234.59 L75.09,234.60 L75.62,234.60 L76.15,234.60 L76.68,234.61 L77.21,234.61 L77.74,234.61 L78.27,234.62 L78.79,234.62 L79.32,234.62 L79.85,234.62 L80.38,234.63 L80.91,234.63 L81.44,234.63 L81.96,234.64 L82.49,234.64 L83.02,234.64 L83.55,234.65 L84.08,234.65 L84.60,234.65 L85.13,234.65 L85.66,234.66 L86.19,234.66 L86.72,234.66 L87.25,234.66 L87.78,234.67 L88.30,234.67 L88.83,234.67 L89.36,234.67 L89.89,234.67 L90.42,234.68 L90.94,234.68 L91.47,234.68 L92.00,234.68 L92.53,234.68 L93.06,234.69 L93.59,234.69 L94.12,234.69 L94.64,234.69 L95.17,234.69 L95.70,234.70 L96.23,234.70 L96.76,234.70 L97.28,234.70 L97.81,234.70 L98.34,234.70 L98.87,234.71 L99.40,234.71 L99.93,234.71 L100.45,234.71 L100.98,234.71 L101.51,234.71 L102.04,234.71 L102.57,234.71 L103.10,234.72 L103.62,234.72 L104.15,234.72 L104.68,234.72 L105.21,234.72 L105.74,234.72 L106.27,234.72 L106.79,234.72 L107.32,234.73 L107.85,234.73 L108.38,234.73 L108.91,234.73 L109.44,234.73 L109.96,234.73 L110.49,234.73 L111.02,234.73 L111.55,234.73 L112.08,234.73 L112.61,234.74 L113.13,234.74 L113.66,234.74 L114.19,234.74 L114.72,234.74 L115.25,234.74 L115.78,234.74 L116.31,234.74 L116.83,234.74 L117.36,234.74 L117.89,234.74 L118.42,234.74 L118.95,234.74 L119.47,234.75 L120.00,234.75 L120.53,234.75 L121.06,234.75 L121.59,234.75 L122.12,234.75 L122.64,234.75 L123.17,234.75 L123.70,234.75 L124.23,234.75 L124.76,234.75 L125.29,234.75 L125.81,234.75 L126.34,234.75 L126.87,234.75 L127.40,234.75 L127.93,234.75 L128.46,234.76 L128.98,234.76 L129.51,234.76 L130.04,234.76 L130.57,234.76 L131.10,234.76 L131.63,234.76 L132.16,234.76 L132.68,234.76 L133.21,234.76 L133.74,234.76 L134.27,234.76 L134.80,234.76 L135.32,234.76 L135.85,234.76 L136.38,234.76 L136.91,234.76 L137.44,234.76 L137.97,234.77 L138.50,234.77 L139.02,234.77 L139.55,234.77 L140.08,234.77 L140.61,234.77 L141.14,234.77 L141.66,234.77 L142.19,234.77 L142.72,234.77 L143.25,234.77 L143.78,234.77 L144.31,234.77 L144.83,234.77 L145.36,234.77 L145.89,234.78 L146.42,234.78 L146.95,234.78 L147.48,234.78 L148.00,234.78 L148.53,234.78 L149.06,234.78 L149.59,234.78 L150.12,234.78 L150.65,234.78 L151.18,234.78 L151.70,234.78 L152.23,234.79 L152.76,234.79 L153.29,234.79 L153.82,234.79 L154.34,234.79 L154.87,234.79 L155.40,234.79 L155.93,234.79 L156.46,234.79 L156.99,234.80 L157.51,234.80 L158.04,234.80 L158.57,234.80 L159.10,234.80" fill="none" stroke="#98553c" stroke-width="1.3" stroke-dasharray="1.6,1.6" stroke-linejoin="round" opacity="1.0"/>
<line x1="32.3" y1="234.8" x2="159.1" y2="234.8" stroke="#262626" stroke-width="1.2"/>
<line x1="80.1" y1="171.0" x2="88.9" y2="171.0" stroke="#1e1e1e" stroke-width="1.1"/><text x="94.5" y="173.59" letter-spacing="0.03" font-family="'Liberation Sans', sans-serif" font-size="7.2"  fill="#111" stroke="#111" stroke-width="0.18">NP</text><line x1="80.1" y1="181.2" x2="88.9" y2="181.2" stroke="#98553c" stroke-width="1.1" stroke-dasharray="2.5,1.6"/><text x="94.5" y="183.79" letter-spacing="0.03" font-family="'Liberation Sans', sans-serif" font-size="7.2"  fill="#111" stroke="#111" stroke-width="0.18">NP + α-TFPI</text><line x1="80.1" y1="191.0" x2="88.9" y2="191.0" stroke="#74a848" stroke-width="1.1"/><text x="94.5" y="193.59" letter-spacing="0.03" font-family="'Liberation Sans', sans-serif" font-size="7.2"  fill="#111" stroke="#111" stroke-width="0.18">NP + α-PS</text><line x1="80.1" y1="200.8" x2="88.9" y2="200.8" stroke="#5050c8" stroke-width="1.1"/><text x="94.5" y="203.39" letter-spacing="0.03" font-family="'Liberation Sans', sans-serif" font-size="7.2"  fill="#111" stroke="#111" stroke-width="0.18">NP + α-TFPI + α-PS</text>
<g stroke="#262626" stroke-width="1.2" fill="none"><line x1="209.2" y1="150.3" x2="209.2" y2="234.9" /><line x1="207.0" y1="234.90" x2="209.2" y2="234.90" /><line x1="207.0" y1="213.75" x2="209.2" y2="213.75" /><line x1="207.0" y1="192.60" x2="209.2" y2="192.60" /><line x1="207.0" y1="171.45" x2="209.2" y2="171.45" /><line x1="207.0" y1="150.30" x2="209.2" y2="150.30" /><line x1="209.2" y1="234.9" x2="336.6" y2="234.9" /><line x1="209.20" y1="234.9" x2="209.20" y2="237.1" /><line x1="251.67" y1="234.9" x2="251.67" y2="237.1" /><line x1="294.13" y1="234.9" x2="294.13" y2="237.1" /><line x1="336.60" y1="234.9" x2="336.60" y2="237.1" /></g>
<g font-family="'Liberation Sans', sans-serif" font-weight="bold" font-size="6.5" fill="#111" stroke="#111" stroke-width="0.1"><text x="206.20" y="237.50" text-anchor="end">0</text><text x="206.20" y="216.35" text-anchor="end">100</text><text x="206.20" y="195.20" text-anchor="end">200</text><text x="206.20" y="174.05" text-anchor="end">300</text><text x="206.20" y="152.90" text-anchor="end">400</text><text x="209.20" y="244.75" text-anchor="middle">0</text><text x="251.67" y="244.75" text-anchor="middle">20</text><text x="294.13" y="244.75" text-anchor="middle">40</text><text x="336.60" y="244.75" text-anchor="middle">60</text></g>
<text transform="translate(191.60,193.00) rotate(-90)" text-anchor="middle" font-family="'Liberation Sans', sans-serif" font-weight="bold" font-size="6.9" fill="#000" stroke="#000" stroke-width="0.15">FIIa (nM)</text>
<text x="273.40" y="253.80" text-anchor="middle" font-family="'Liberation Sans', sans-serif" font-weight="bold" font-size="6.9" fill="#000" stroke="#000" stroke-width="0.15">Time (min)</text>
<path d="M209.20,234.90 L209.73,234.90 L210.26,234.90 L210.79,234.90 L211.32,234.90 L211.85,234.90 L212.38,234.90 L212.92,234.90 L213.45,234.90 L213.98,234.90 L214.51,234.90 L215.04,234.90 L215.57,234.90 L216.10,234.90 L216.63,234.90 L217.16,234.90 L217.69,234.90 L218.22,234.90 L218.75,234.90 L219.29,234.90 L219.82,234.90 L220.35,234.90 L220.88,234.43 L221.41,232.81 L221.94,230.53 L222.47,228.14 L223.00,226.08 L223.53,224.02 L224.06,221.90 L224.59,219.76 L225.12,217.67 L225.66,215.68 L226.19,213.63 L226.72,211.55 L227.25,209.60 L227.78,207.96 L228.31,206.78 L228.84,205.80 L229.37,204.86 L229.90,204.01 L230.43,203.30 L230.96,202.75 L231.50,202.42 L232.03,202.34 L232.56,202.55 L233.09,203.04 L233.62,203.75 L234.15,204.62 L234.68,205.60 L235.21,206.65 L235.74,207.69 L236.27,208.69 L236.80,209.62 L237.33,210.61 L237.87,211.66 L238.40,212.74 L238.93,213.84 L239.46,214.93 L239.99,216.00 L240.52,217.12 L241.05,218.25 L241.58,219.38 L242.11,220.45 L242.64,221.45 L243.17,222.35 L243.70,223.18 L244.23,223.98 L244.77,224.72 L245.30,225.42 L245.83,226.07 L246.36,226.67 L246.89,227.23 L247.42,227.75 L247.95,228.24 L248.48,228.71 L249.01,229.17 L249.54,229.61 L250.07,230.07 L250.60,230.54 L251.14,231.00 L251.67,231.44 L252.20,231.83 L252.73,232.16 L253.26,232.40 L253.79,232.60 L254.32,232.78 L254.85,232.93 L255.38,233.07 L255.91,233.19 L256.44,233.31 L256.98,233.42 L257.51,233.53 L258.04,233.63 L258.57,233.73 L259.10,233.83 L259.63,233.92 L260.16,234.00 L260.69,234.08 L261.22,234.16 L261.75,234.22 L262.28,234.24 L262.81,234.25 L263.35,234.30 L263.88,234.34 L264.41,234.39 L264.94,234.44 L265.47,234.48 L266.00,234.51 L266.53,234.53 L267.06,234.58 L267.59,234.62 L268.12,234.63 L268.65,234.61 L269.18,234.61 L269.72,234.73 L270.25,234.87 L270.78,234.84 L271.31,234.77 L271.84,234.69 L272.37,234.61 L272.90,234.51 L273.43,234.68 L273.96,234.85 L274.49,234.81 L275.02,234.62 L275.55,234.47 L276.09,234.48 L276.62,234.50 L277.15,234.60 L277.68,234.73 L278.21,234.81 L278.74,234.83 L279.27,234.84 L279.80,234.82 L280.33,234.80 L280.86,234.81 L281.39,234.83 L281.92,234.81 L282.46,234.65 L282.99,234.49 L283.52,234.59 L284.05,234.76 L284.58,234.89 L285.11,234.99 L285.64,235.09 L286.17,235.07 L286.70,235.06 L287.23,234.95 L287.76,234.79 L288.29,234.64 L288.82,234.57 L289.36,234.50 L289.89,234.60 L290.42,234.73 L290.95,234.81 L291.48,234.81 L292.01,234.82 L292.54,234.80 L293.07,234.79 L293.60,234.75 L294.13,234.70 L294.66,234.69 L295.20,234.83 L295.73,234.97 L296.26,234.92 L296.79,234.82 L297.32,234.76 L297.85,234.78 L298.38,234.79 L298.91,234.77 L299.44,234.76 L299.97,234.82 L300.50,234.94 L301.03,235.04 L301.56,235.04 L302.10,235.04 L302.63,235.01 L303.16,234.96 L303.69,234.87 L304.22,234.72 L304.75,234.57 L305.28,234.72 L305.81,234.88 L306.34,234.90 L306.87,234.83 L307.40,234.80 L307.94,234.88 L308.47,234.95 L309.00,235.01 L309.53,235.07 L310.06,235.10 L310.59,235.11 L311.12,235.13 L311.65,234.93 L312.18,234.73 L312.71,234.66 L313.24,234.67 L313.77,234.70 L314.31,234.81 L314.84,234.91 L315.37,234.87 L315.90,234.79 L316.43,234.74 L316.96,234.74 L317.49,234.75 L318.02,234.69 L318.55,234.63 L319.08,234.60 L319.61,234.58 L320.14,234.60 L320.68,234.75 L321.21,234.89 L321.74,234.80 L322.27,234.65 L322.80,234.56 L323.33,234.57 L323.86,234.58 L324.39,234.68 L324.92,234.78 L325.45,234.77 L325.98,234.69 L326.51,234.65 L327.05,234.76 L327.58,234.86 L328.11,234.91 L328.64,234.94 L329.17,234.97 L329.70,235.01 L330.23,235.04 L330.76,234.88 L331.29,234.71 L331.82,234.76 L332.35,234.95 L332.88,235.11 L333.42,235.13 L333.95,235.16 L334.48,235.01 L335.01,234.82 L335.54,234.71 L336.07,234.72 L336.60,234.73" fill="none" stroke="#1e1e1e" stroke-width="1.3" stroke-linejoin="round" opacity="1.0"/>
<path d="M209.20,234.90 L209.73,234.90 L210.26,234.90 L210.79,234.90 L211.32,234.90 L211.85,234.90 L212.38,234.90 L212.92,234.90 L213.45,234.90 L213.98,234.90 L214.51,234.90 L215.04,234.90 L215.57,234.90 L216.10,234.90 L216.63,234.90 L217.16,234.90 L217.69,234.90 L218.22,233.94 L218.75,231.81 L219.29,229.63 L219.82,227.49 L220.35,225.16 L220.88,222.69 L221.41,220.14 L221.94,217.56 L222.47,214.84 L223.00,211.95 L223.53,209.03 L224.06,206.19 L224.59,203.58 L225.12,200.97 L225.66,198.13 L226.19,195.34 L226.72,192.91 L227.25,191.13 L227.78,190.30 L228.31,190.58 L228.84,191.69 L229.37,193.39 L229.90,195.44 L230.43,197.60 L230.96,199.64 L231.50,201.65 L232.03,203.88 L232.56,206.21 L233.09,208.49 L233.62,210.58 L234.15,212.51 L234.68,214.39 L235.21,216.18 L235.74,217.86 L236.27,219.39 L236.80,220.80 L237.33,222.18 L237.87,223.46 L238.40,224.60 L238.93,225.51 L239.46,226.20 L239.99,226.82 L240.52,227.39 L241.05,227.91 L241.58,228.39 L242.11,228.83 L242.64,229.24 L243.17,229.60 L243.70,229.94 L244.23,230.24 L244.77,230.52 L245.30,230.77 L245.83,231.00 L246.36,231.21 L246.89,231.40 L247.42,231.58 L247.95,231.75 L248.48,231.91 L249.01,232.06 L249.54,232.21 L250.07,232.35 L250.60,232.50 L251.14,232.64 L251.67,232.78 L252.20,232.93 L252.73,233.09 L253.26,233.24 L253.79,233.38 L254.32,233.52 L254.85,233.65 L255.38,233.75 L255.91,233.84 L256.44,233.92 L256.98,234.00 L257.51,234.07 L258.04,234.14 L258.57,234.20 L259.10,234.26 L259.63,234.32 L260.16,234.37 L260.69,234.42 L261.22,234.44 L261.75,234.47 L262.28,234.51 L262.81,234.54 L263.35,234.50 L263.88,234.43 L264.41,234.45 L264.94,234.49 L265.47,234.52 L266.00,234.52 L266.53,234.53 L267.06,234.55 L267.59,234.57 L268.12,234.56 L268.65,234.53 L269.18,234.48 L269.72,234.43 L270.25,234.38 L270.78,234.47 L271.31,234.61 L271.84,234.70 L272.37,234.69 L272.90,234.69 L273.43,234.64 L273.96,234.59 L274.49,234.61 L275.02,234.69 L275.55,234.74 L276.09,234.67 L276.62,234.59 L277.15,234.59 L277.68,234.61 L278.21,234.64 L278.74,234.67 L279.27,234.70 L279.80,234.64 L280.33,234.58 L280.86,234.59 L281.39,234.63 L281.92,234.69 L282.46,234.81 L282.99,234.93 L283.52,234.76 L284.05,234.52 L284.58,234.45 L285.11,234.62 L285.64,234.80 L286.17,234.78 L286.70,234.76 L287.23,234.76 L287.76,234.77 L288.29,234.75 L288.82,234.62 L289.36,234.48 L289.89,234.45 L290.42,234.45 L290.95,234.49 L291.48,234.61 L292.01,234.73 L292.54,234.76 L293.07,234.80 L293.60,234.86 L294.13,234.94 L294.66,234.96 L295.20,234.76 L295.73,234.55 L296.26,234.66 L296.79,234.85 L297.32,234.93 L297.85,234.83 L298.38,234.74 L298.91,234.79 L299.44,234.84 L299.97,234.87 L300.50,234.88 L301.03,234.88 L301.56,234.88 L302.10,234.87 L302.63,234.91 L303.16,234.95 L303.69,235.00 L304.22,235.04 L304.75,235.08 L305.28,234.95 L305.81,234.82 L306.34,234.73 L306.87,234.66 L307.40,234.61 L307.94,234.66 L308.47,234.70 L309.00,234.80 L309.53,234.92 L310.06,234.94 L310.59,234.81 L311.12,234.68 L311.65,234.85 L312.18,235.02 L312.71,235.04 L313.24,234.94 L313.77,234.85 L314.31,234.74 L314.84,234.63 L315.37,234.59 L315.90,234.57 L316.43,234.60 L316.96,234.72 L317.49,234.85 L318.02,234.75 L318.55,234.65 L319.08,234.66 L319.61,234.76 L320.14,234.83 L320.68,234.83 L321.21,234.82 L321.74,234.81 L322.27,234.79 L322.80,234.74 L323.33,234.64 L323.86,234.53 L324.39,234.60 L324.92,234.67 L325.45,234.74 L325.98,234.81 L326.51,234.86 L327.05,234.79 L327.58,234.73 L328.11,234.73 L328.64,234.76 L329.17,234.80 L329.70,234.88 L330.23,234.96 L330.76,234.85 L331.29,234.74 L331.82,234.69 L332.35,234.68 L332.88,234.69 L333.42,234.75 L333.95,234.81 L334.48,234.75 L335.01,234.66 L335.54,234.71 L336.07,234.96 L336.60,235.21" fill="none" stroke="#74a848" stroke-width="1.3" stroke-linejoin="round" opacity="1.0"/>
<path d="M209.20,234.90 L209.73,234.90 L210.26,234.90 L210.79,234.90 L211.32,234.90 L211.85,234.90 L212.38,234.90 L212.92,234.90 L213.45,234.90 L213.98,234.90 L214.51,234.90 L215.04,234.90 L215.57,234.83 L216.10,234.14 L216.63,232.80 L217.16,230.96 L217.69,227.94 L218.22,220.74 L218.75,211.07 L219.29,201.23 L219.82,193.01 L220.35,184.05 L220.88,175.27 L221.41,168.70 L221.94,166.38 L222.47,167.56 L223.00,170.31 L223.53,173.99 L224.06,177.96 L224.59,181.56 L225.12,184.81 L225.66,188.17 L226.19,191.40 L226.72,194.31 L227.25,197.02 L227.78,199.56 L228.31,201.95 L228.84,204.23 L229.37,206.37 L229.90,208.31 L230.43,210.02 L230.96,211.56 L231.50,213.01 L232.03,214.47 L232.56,215.99 L233.09,217.51 L233.62,218.98 L234.15,220.34 L234.68,221.54 L235.21,222.61 L235.74,223.60 L236.27,224.51 L236.80,225.37 L237.33,226.18 L237.87,226.98 L238.40,227.77 L238.93,228.53 L239.46,229.24 L239.99,229.87 L240.52,230.41 L241.05,230.83 L241.58,231.21 L242.11,231.56 L242.64,231.89 L243.17,232.19 L243.70,232.47 L244.23,232.72 L244.77,232.95 L245.30,233.15 L245.83,233.33 L246.36,233.48 L246.89,233.62 L247.42,233.75 L247.95,233.87 L248.48,233.99 L249.01,234.09 L249.54,234.19 L250.07,234.28 L250.60,234.35 L251.14,234.42 L251.67,234.48 L252.20,234.53 L252.73,234.58 L253.26,234.63 L253.79,234.68 L254.32,234.73 L254.85,234.77 L255.38,234.81 L255.91,234.84 L256.44,234.87 L256.98,234.90 L257.51,234.92 L258.04,234.93 L258.57,234.93 L259.10,234.91 L259.63,234.88 L260.16,234.83 L260.69,234.89 L261.22,234.95 L261.75,234.99 L262.28,235.01 L262.81,235.03 L263.35,235.05 L263.88,235.06 L264.41,235.08 L264.94,235.10 L265.47,235.10 L266.00,235.06 L266.53,235.02 L267.06,234.96 L267.59,234.89 L268.12,234.82 L268.65,234.75 L269.18,234.72 L269.72,234.85 L270.25,234.98 L270.78,235.00 L271.31,234.99 L271.84,234.99 L272.37,235.01 L272.90,235.03 L273.43,235.03 L273.96,235.03 L274.49,234.95 L275.02,234.82 L275.55,234.74 L276.09,234.80 L276.62,234.86 L277.15,234.93 L277.68,235.01 L278.21,235.07 L278.74,235.11 L279.27,235.15 L279.80,234.97 L280.33,234.79 L280.86,234.73 L281.39,234.75 L281.92,234.76 L282.46,234.73 L282.99,234.70 L283.52,234.82 L284.05,234.97 L284.58,235.03 L285.11,234.95 L285.64,234.87 L286.17,234.77 L286.70,234.67 L287.23,234.69 L287.76,234.77 L288.29,234.82 L288.82,234.73 L289.36,234.64 L289.89,234.78 L290.42,234.99 L290.95,235.03 L291.48,234.81 L292.01,234.60 L292.54,234.84 L293.07,235.08 L293.60,235.12 L294.13,235.03 L294.66,234.97 L295.20,235.08 L295.73,235.18 L296.26,235.04 L296.79,234.83 L297.32,234.72 L297.85,234.75 L298.38,234.78 L298.91,234.71 L299.44,234.63 L299.97,234.63 L300.50,234.67 L301.03,234.70 L301.56,234.66 L302.10,234.62 L302.63,234.70 L303.16,234.81 L303.69,234.83 L304.22,234.71 L304.75,234.59 L305.28,234.65 L305.81,234.72 L306.34,234.81 L306.87,234.91 L307.40,234.96 L307.94,234.80 L308.47,234.63 L309.00,234.73 L309.53,234.88 L310.06,235.00 L310.59,235.05 L311.12,235.09 L311.65,235.13 L312.18,235.16 L312.71,235.11 L313.24,235.00 L313.77,234.94 L314.31,235.01 L314.84,235.08 L315.37,234.94 L315.90,234.74 L316.43,234.62 L316.96,234.62 L317.49,234.61 L318.02,234.81 L318.55,235.00 L319.08,235.10 L319.61,235.13 L320.14,235.13 L320.68,235.02 L321.21,234.90 L321.74,234.96 L322.27,235.05 L322.80,235.07 L323.33,234.97 L323.86,234.87 L324.39,234.80 L324.92,234.73 L325.45,234.79 L325.98,234.94 L326.51,235.05 L327.05,235.00 L327.58,234.96 L328.11,234.85 L328.64,234.72 L329.17,234.69 L329.70,234.81 L330.23,234.94 L330.76,234.96 L331.29,234.99 L331.82,234.91 L332.35,234.77 L332.88,234.66 L333.42,234.68 L333.95,234.70 L334.48,234.68 L335.01,234.66 L335.54,234.67 L336.07,234.73 L336.60,234.78" fill="none" stroke="#5050c8" stroke-width="1.3" stroke-linejoin="round" opacity="1.0"/>
<path d="M209.20,234.90 L209.73,234.90 L210.26,234.90 L210.79,234.90 L211.32,234.90 L211.85,234.90 L212.38,234.90 L212.92,234.90 L213.45,234.90 L213.98,234.90 L214.51,234.90 L215.04,234.90 L215.57,234.83 L216.10,234.14 L216.63,232.82 L217.16,231.00 L217.69,228.01 L218.22,220.88 L218.75,211.31 L219.29,201.56 L219.82,193.43 L220.35,184.56 L220.88,175.86 L221.41,169.37 L221.94,167.07 L222.47,168.23 L223.00,170.96 L223.53,174.60 L224.06,178.53 L224.59,182.09 L225.12,185.31 L225.66,188.64 L226.19,191.84 L226.72,194.71 L227.25,197.40 L227.78,199.92 L228.31,202.28 L228.84,204.53 L229.37,206.65 L229.90,208.58 L230.43,210.27 L230.96,211.79 L231.50,213.23 L232.03,214.67 L232.56,216.17 L233.09,217.68 L233.62,219.14 L234.15,220.49 L234.68,221.68 L235.21,222.74 L235.74,223.71 L236.27,224.62 L236.80,225.46 L237.33,226.26 L237.87,227.06 L238.40,227.84 L238.93,228.60 L239.46,229.30 L239.99,229.92 L240.52,230.45 L241.05,230.87 L241.58,231.25 L242.11,231.60 L242.64,231.92 L243.17,232.22 L243.70,232.49 L244.23,232.74 L244.77,232.97 L245.30,233.17 L245.83,233.34 L246.36,233.49 L246.89,233.63 L247.42,233.76 L247.95,233.88 L248.48,234.00 L249.01,234.10 L249.54,234.20 L250.07,234.28 L250.60,234.36 L251.14,234.42 L251.67,234.48 L252.20,234.53 L252.73,234.59 L253.26,234.64 L253.79,234.68 L254.32,234.73 L254.85,234.77 L255.38,234.81 L255.91,234.84 L256.44,234.86 L256.98,234.88 L257.51,234.90 L258.04,234.90 L258.57,234.90 L259.10,234.90 L259.63,234.90 L260.16,234.90 L260.69,234.90 L261.22,234.90 L261.75,234.90 L262.28,234.90 L262.81,234.90 L263.35,234.90 L263.88,234.90 L264.41,234.90 L264.94,234.90 L265.47,234.90 L266.00,234.90 L266.53,234.90 L267.06,234.90 L267.59,234.90 L268.12,234.90 L268.65,234.90 L269.18,234.90 L269.72,234.90 L270.25,234.90 L270.78,234.90 L271.31,234.90 L271.84,234.90 L272.37,234.90 L272.90,234.90 L273.43,234.90 L273.96,234.90 L274.49,234.90 L275.02,234.90 L275.55,234.90 L276.09,234.90 L276.62,234.90 L277.15,234.90 L277.68,234.90 L278.21,234.90 L278.74,234.90 L279.27,234.90 L279.80,234.90 L280.33,234.90 L280.86,234.90 L281.39,234.90 L281.92,234.90 L282.46,234.90 L282.99,234.90 L283.52,234.90 L284.05,234.90 L284.58,234.90 L285.11,234.90 L285.64,234.90 L286.17,234.90 L286.70,234.90 L287.23,234.90 L287.76,234.90 L288.29,234.90 L288.82,234.90 L289.36,234.90 L289.89,234.90 L290.42,234.90 L290.95,234.90 L291.48,234.90 L292.01,234.90 L292.54,234.90 L293.07,234.90 L293.60,234.90 L294.13,234.90 L294.66,234.90 L295.20,234.90 L295.73,234.90 L296.26,234.90 L296.79,234.90 L297.32,234.90 L297.85,234.90 L298.38,234.90 L298.91,234.90 L299.44,234.90 L299.97,234.90 L300.50,234.90 L301.03,234.90 L301.56,234.90 L302.10,234.90 L302.63,234.90 L303.16,234.90 L303.69,234.90 L304.22,234.90 L304.75,234.90 L305.28,234.90 L305.81,234.90 L306.34,234.90 L306.87,234.90 L307.40,234.90 L307.94,234.90 L308.47,234.90 L309.00,234.90 L309.53,234.90 L310.06,234.90 L310.59,234.90 L311.12,234.90 L311.65,234.90 L312.18,234.90 L312.71,234.90 L313.24,234.90 L313.77,234.90 L314.31,234.90 L314.84,234.90 L315.37,234.90 L315.90,234.90 L316.43,234.90 L316.96,234.90 L317.49,234.90 L318.02,234.90 L318.55,234.90 L319.08,234.90 L319.61,234.90 L320.14,234.90 L320.68,234.90 L321.21,234.90 L321.74,234.90 L322.27,234.90 L322.80,234.90 L323.33,234.90 L323.86,234.90 L324.39,234.90 L324.92,234.90 L325.45,234.90 L325.98,234.90 L326.51,234.90 L327.05,234.90 L327.58,234.90 L328.11,234.90 L328.64,234.90 L329.17,234.90 L329.70,234.90 L330.23,234.90 L330.76,234.90 L331.29,234.90 L331.82,234.90 L332.35,234.90 L332.88,234.90 L333.42,234.90 L333.95,234.90 L334.48,234.90 L335.01,234.90 L335.54,234.90 L336.07,234.90 L336.60,234.90" fill="none" stroke="#8c5478" stroke-width="1.3" stroke-dasharray="1.6,1.6" stroke-linejoin="round" opacity="1.0"/>
<line x1="209.2" y1="234.9" x2="336.6" y2="234.9" stroke="#262626" stroke-width="1.2"/>
<line x1="257.0" y1="169.7" x2="266.2" y2="169.7" stroke="#1e1e1e" stroke-width="1.1"/><text x="271.2" y="172.29" letter-spacing="0.08" font-family="'Liberation Sans', sans-serif" font-size="7.2"  fill="#111" stroke="#111" stroke-width="0.18">II:1</text><line x1="257.0" y1="180.0" x2="266.2" y2="180.0" stroke="#8c5478" stroke-width="1.1" stroke-dasharray="2.5,1.6"/><text x="271.2" y="182.59" letter-spacing="0.08" font-family="'Liberation Sans', sans-serif" font-size="7.2"  fill="#111" stroke="#111" stroke-width="0.18">II:1 + α-TFPI</text><line x1="257.0" y1="189.8" x2="266.2" y2="189.8" stroke="#74a848" stroke-width="1.1"/><text x="271.2" y="192.39" letter-spacing="0.08" font-family="'Liberation Sans', sans-serif" font-size="7.2"  fill="#111" stroke="#111" stroke-width="0.18">II:1 + α-PS</text><line x1="257.0" y1="200.0" x2="266.2" y2="200.0" stroke="#5050c8" stroke-width="1.1"/><text x="271.2" y="202.59" letter-spacing="0.08" font-family="'Liberation Sans', sans-serif" font-size="7.2"  fill="#111" stroke="#111" stroke-width="0.18">II:1 + α-TFPI + α-PS</text>
<g stroke="#262626" stroke-width="1.2" fill="none"><line x1="386.4" y1="150.3" x2="386.4" y2="234.9" /><line x1="384.2" y1="234.90" x2="386.4" y2="234.90" /><line x1="384.2" y1="213.75" x2="386.4" y2="213.75" /><line x1="384.2" y1="192.60" x2="386.4" y2="192.60" /><line x1="384.2" y1="171.45" x2="386.4" y2="171.45" /><line x1="384.2" y1="150.30" x2="386.4" y2="150.30" /><line x1="386.4" y1="234.9" x2="513.5" y2="234.9" /><line x1="386.40" y1="234.9" x2="386.40" y2="237.1" /><line x1="428.77" y1="234.9" x2="428.77" y2="237.1" /><line x1="471.13" y1="234.9" x2="471.13" y2="237.1" /><line x1="513.50" y1="234.9" x2="513.50" y2="237.1" /></g>
<g font-family="'Liberation Sans', sans-serif" font-weight="bold" font-size="6.5" fill="#111" stroke="#111" stroke-width="0.1"><text x="383.40" y="237.50" text-anchor="end">0</text><text x="383.40" y="216.35" text-anchor="end">100</text><text x="383.40" y="195.20" text-anchor="end">200</text><text x="383.40" y="174.05" text-anchor="end">300</text><text x="383.40" y="152.90" text-anchor="end">400</text><text x="386.40" y="244.75" text-anchor="middle">0</text><text x="428.77" y="244.75" text-anchor="middle">20</text><text x="471.13" y="244.75" text-anchor="middle">40</text><text x="513.50" y="244.75" text-anchor="middle">60</text></g>
<text transform="translate(368.80,193.00) rotate(-90)" text-anchor="middle" font-family="'Liberation Sans', sans-serif" font-weight="bold" font-size="6.9" fill="#000" stroke="#000" stroke-width="0.15">FIIa (nM)</text>
<text x="450.45" y="253.80" text-anchor="middle" font-family="'Liberation Sans', sans-serif" font-weight="bold" font-size="6.9" fill="#000" stroke="#000" stroke-width="0.15">Time (min)</text>
<path d="M386.40,234.90 L513.50,234.90" fill="none" stroke="#1e1e1e" stroke-width="1.3" stroke-linejoin="round" opacity="1.0"/>
<path d="M386.40,234.90 L386.93,234.90 L387.46,234.90 L387.99,234.90 L388.52,234.90 L389.05,234.90 L389.58,234.90 L390.11,234.90 L390.64,234.90 L391.17,234.90 L391.70,234.90 L392.23,234.90 L392.75,234.90 L393.28,234.90 L393.81,234.90 L394.34,234.90 L394.87,234.90 L395.40,234.90 L395.93,234.90 L396.46,234.90 L396.99,234.90 L397.52,234.90 L398.05,234.90 L398.58,234.90 L399.11,234.90 L399.64,234.90 L400.17,234.90 L400.70,234.90 L401.23,234.90 L401.76,234.90 L402.29,234.90 L402.82,234.90 L403.35,234.90 L403.88,234.90 L404.41,234.90 L404.94,234.90 L405.46,234.90 L405.99,234.90 L406.52,234.90 L407.05,234.90 L407.58,234.90 L408.11,234.90 L408.64,234.90 L409.17,234.90 L409.70,234.90 L410.23,234.90 L410.76,234.90 L411.29,234.90 L411.82,234.90 L412.35,234.90 L412.88,234.90 L413.41,234.90 L413.94,234.90 L414.47,234.90 L415.00,234.90 L415.53,234.90 L416.06,234.90 L416.59,234.90 L417.12,234.90 L417.65,234.90 L418.18,234.90 L418.70,234.79 L419.23,234.50 L419.76,234.09 L420.29,233.63 L420.82,232.93 L421.35,231.91 L421.88,230.73 L422.41,229.60 L422.94,228.69 L423.47,228.05 L424.00,227.48 L424.53,226.98 L425.06,226.56 L425.59,226.23 L426.12,225.96 L426.65,225.72 L427.18,225.51 L427.71,225.34 L428.24,225.22 L428.77,225.15 L429.30,225.09 L429.83,225.03 L430.36,224.98 L430.88,224.93 L431.41,224.89 L431.94,224.85 L432.47,224.82 L433.00,224.80 L433.53,224.78 L434.06,224.76 L434.59,224.75 L435.12,224.75 L435.65,224.76 L436.18,224.79 L436.71,224.84 L437.24,224.90 L437.77,224.98 L438.30,225.07 L438.83,225.17 L439.36,225.28 L439.89,225.39 L440.42,225.50 L440.95,225.61 L441.48,225.72 L442.01,225.83 L442.54,225.93 L443.07,226.05 L443.59,226.17 L444.12,226.30 L444.65,226.43 L445.18,226.57 L445.71,226.71 L446.24,226.86 L446.77,227.01 L447.30,227.16 L447.83,227.31 L448.36,227.46 L448.89,227.61 L449.42,227.77 L449.95,227.92 L450.48,228.08 L451.01,228.24 L451.54,228.40 L452.07,228.57 L452.60,228.74 L453.13,228.91 L453.66,229.08 L454.19,229.26 L454.72,229.43 L455.25,229.61 L455.78,229.78 L456.31,229.95 L456.83,230.11 L457.36,230.27 L457.89,230.43 L458.42,230.58 L458.95,230.74 L459.48,230.89 L460.01,231.05 L460.54,231.20 L461.07,231.36 L461.60,231.51 L462.13,231.66 L462.66,231.80 L463.19,231.94 L463.72,232.08 L464.25,232.20 L464.78,232.32 L465.31,232.43 L465.84,232.54 L466.37,232.63 L466.90,232.72 L467.43,232.80 L467.96,232.88 L468.49,232.96 L469.01,233.04 L469.54,233.11 L470.07,233.18 L470.60,233.25 L471.13,233.31 L471.66,233.37 L472.19,233.43 L472.72,233.49 L473.25,233.55 L473.78,233.60 L474.31,233.65 L474.84,233.70 L475.37,233.75 L475.90,233.80 L476.43,233.84 L476.96,233.89 L477.49,233.93 L478.02,233.98 L478.55,234.02 L479.08,234.05 L479.61,234.09 L480.14,234.13 L480.67,234.16 L481.20,234.20 L481.73,234.23 L482.25,234.26 L482.78,234.29 L483.31,234.32 L483.84,234.35 L484.37,234.38 L484.90,234.40 L485.43,234.43 L485.96,234.46 L486.49,234.48 L487.02,234.51 L487.55,234.53 L488.08,234.56 L488.61,234.58 L489.14,234.60 L489.67,234.62 L490.20,234.64 L490.73,234.65 L491.26,234.67 L491.79,234.68 L492.32,234.69 L492.85,234.70 L493.38,234.71 L493.91,234.71 L494.44,234.72 L494.96,234.73 L495.49,234.74 L496.02,234.74 L496.55,234.75 L497.08,234.76 L497.61,234.76 L498.14,234.77 L498.67,234.78 L499.20,234.78 L499.73,234.79 L500.26,234.79 L500.79,234.80 L501.32,234.80 L501.85,234.81 L502.38,234.81 L502.91,234.81 L503.44,234.82 L503.97,234.82 L504.50,234.83 L505.03,234.83 L505.56,234.83 L506.09,234.84 L506.62,234.84 L507.14,234.85 L507.67,234.85 L508.20,234.85 L508.73,234.86 L509.26,234.86 L509.79,234.87 L510.32,234.87 L510.85,234.88 L511.38,234.88 L511.91,234.88 L512.44,234.89 L512.97,234.89 L513.50,234.90" fill="none" stroke="#74a848" stroke-width="1.3" stroke-linejoin="round" opacity="1.0"/>
<path d="M386.40,234.90 L386.93,234.90 L387.46,234.90 L387.99,234.90 L388.52,234.90 L389.05,234.90 L389.58,234.90 L390.11,234.90 L390.64,234.90 L391.17,234.78 L391.70,234.22 L392.23,233.52 L392.75,232.60 L393.28,231.45 L393.81,230.09 L394.34,228.34 L394.87,226.30 L395.40,224.19 L395.93,222.18 L396.46,220.13 L396.99,218.05 L397.52,216.01 L398.05,214.05 L398.58,211.98 L399.11,209.93 L399.64,208.14 L400.17,206.86 L400.70,205.84 L401.23,204.89 L401.76,204.09 L402.29,203.50 L402.82,203.20 L403.35,203.28 L403.88,203.83 L404.41,204.72 L404.94,205.82 L405.46,206.98 L405.99,208.48 L406.52,210.45 L407.05,212.59 L407.58,214.60 L408.11,216.47 L408.64,218.36 L409.17,220.14 L409.70,221.72 L410.23,223.06 L410.76,224.30 L411.29,225.43 L411.82,226.45 L412.35,227.34 L412.88,228.12 L413.41,228.84 L413.94,229.51 L414.47,230.11 L415.00,230.65 L415.53,231.11 L416.06,231.52 L416.59,231.91 L417.12,232.26 L417.65,232.59 L418.18,232.88 L418.70,233.13 L419.23,233.35 L419.76,233.52 L420.29,233.69 L420.82,233.85 L421.35,234.00 L421.88,234.14 L422.41,234.26 L422.94,234.36 L423.47,234.46 L424.00,234.53 L424.53,234.58 L425.06,234.63 L425.59,234.67 L426.12,234.71 L426.65,234.74 L427.18,234.78 L427.71,234.81 L428.24,234.83 L428.77,234.86 L429.30,234.88 L429.83,234.90 L430.36,234.89 L430.88,234.87 L431.41,234.87 L431.94,234.87 L432.47,234.87 L433.00,234.88 L433.53,234.89 L434.06,234.88 L434.59,234.88 L435.12,234.86 L435.65,234.84 L436.18,234.83 L436.71,234.85 L437.24,234.87 L437.77,234.92 L438.30,234.98 L438.83,235.00 L439.36,234.99 L439.89,234.98 L440.42,235.00 L440.95,235.02 L441.48,235.00 L442.01,234.97 L442.54,234.90 L443.07,234.78 L443.59,234.65 L444.12,234.77 L444.65,234.89 L445.18,234.98 L445.71,235.06 L446.24,235.10 L446.77,235.02 L447.30,234.93 L447.83,234.85 L448.36,234.78 L448.89,234.77 L449.42,234.85 L449.95,234.93 L450.48,234.87 L451.01,234.82 L451.54,234.87 L452.07,235.00 L452.60,235.11 L453.13,235.11 L453.66,235.12 L454.19,235.02 L454.72,234.89 L455.25,234.87 L455.78,235.00 L456.31,235.13 L456.83,235.08 L457.36,235.02 L457.89,234.99 L458.42,234.97 L458.95,234.97 L459.48,235.01 L460.01,235.05 L460.54,235.08 L461.07,235.12 L461.60,235.14 L462.13,235.14 L462.66,235.15 L463.19,234.95 L463.72,234.75 L464.25,234.70 L464.78,234.76 L465.31,234.79 L465.84,234.74 L466.37,234.68 L466.90,234.75 L467.43,234.85 L467.96,234.87 L468.49,234.77 L469.01,234.67 L469.54,234.69 L470.07,234.71 L470.60,234.75 L471.13,234.80 L471.66,234.84 L472.19,234.86 L472.72,234.88 L473.25,234.89 L473.78,234.89 L474.31,234.92 L474.84,234.98 L475.37,235.04 L475.90,235.01 L476.43,234.98 L476.96,234.92 L477.49,234.85 L478.02,234.81 L478.55,234.92 L479.08,235.03 L479.61,234.94 L480.14,234.81 L480.67,234.75 L481.20,234.82 L481.73,234.90 L482.25,234.88 L482.78,234.86 L483.31,234.82 L483.84,234.77 L484.37,234.74 L484.90,234.78 L485.43,234.82 L485.96,234.91 L486.49,235.02 L487.02,235.07 L487.55,235.05 L488.08,235.03 L488.61,235.08 L489.14,235.13 L489.67,235.15 L490.20,235.14 L490.73,235.10 L491.26,234.91 L491.79,234.71 L492.32,234.73 L492.85,234.81 L493.38,234.82 L493.91,234.74 L494.44,234.66 L494.96,234.70 L495.49,234.74 L496.02,234.82 L496.55,234.91 L497.08,234.97 L497.61,234.83 L498.14,234.69 L498.67,234.67 L499.20,234.68 L499.73,234.72 L500.26,234.82 L500.79,234.92 L501.32,235.00 L501.85,235.08 L502.38,235.08 L502.91,235.03 L503.44,235.00 L503.97,235.03 L504.50,235.06 L505.03,235.04 L505.56,234.99 L506.09,234.99 L506.62,235.05 L507.14,235.11 L507.67,234.98 L508.20,234.85 L508.73,234.76 L509.26,234.70 L509.79,234.69 L510.32,234.85 L510.85,235.01 L511.38,234.95 L511.91,234.83 L512.44,234.77 L512.97,234.82 L513.50,234.86" fill="none" stroke="#5050c8" stroke-width="1.3" stroke-linejoin="round" opacity="1.0"/>
<path d="M386.40,234.90 L386.93,234.90 L387.46,234.90 L387.99,234.90 L388.52,234.90 L389.05,234.90 L389.58,234.90 L390.11,234.90 L390.64,234.90 L391.17,234.83 L391.70,234.47 L392.23,233.95 L392.75,233.31 L393.28,232.41 L393.81,231.32 L394.34,230.17 L394.87,229.00 L395.40,227.71 L395.93,226.33 L396.46,224.93 L396.99,223.45 L397.52,221.91 L398.05,220.37 L398.58,218.88 L399.11,217.50 L399.64,216.17 L400.17,214.89 L400.70,213.72 L401.23,212.71 L401.76,211.70 L402.29,210.69 L402.82,209.83 L403.35,209.26 L403.88,209.10 L404.41,209.32 L404.94,209.76 L405.46,210.32 L405.99,210.91 L406.52,211.60 L407.05,212.45 L407.58,213.40 L408.11,214.39 L408.64,215.45 L409.17,216.64 L409.70,217.91 L410.23,219.20 L410.76,220.46 L411.29,221.66 L411.82,222.90 L412.35,224.12 L412.88,225.26 L413.41,226.26 L413.94,227.11 L414.47,227.88 L415.00,228.59 L415.53,229.24 L416.06,229.82 L416.59,230.35 L417.12,230.86 L417.65,231.36 L418.18,231.82 L418.70,232.24 L419.23,232.62 L419.76,232.94 L420.29,233.21 L420.82,233.43 L421.35,233.64 L421.88,233.84 L422.41,234.01 L422.94,234.17 L423.47,234.30 L424.00,234.40 L424.53,234.48 L425.06,234.54 L425.59,234.59 L426.12,234.64 L426.65,234.69 L427.18,234.74 L427.71,234.78 L428.24,234.81 L428.77,234.84 L429.30,234.87 L429.83,234.89 L430.36,234.90 L430.88,234.90 L431.41,234.90 L431.94,234.90 L432.47,234.90 L433.00,234.90 L433.53,234.90 L434.06,234.90 L434.59,234.90 L435.12,234.90 L435.65,234.90 L436.18,234.90 L436.71,234.90 L437.24,234.90 L437.77,234.90 L438.30,234.90 L438.83,234.90 L439.36,234.90 L439.89,234.90 L440.42,234.90 L440.95,234.90 L441.48,234.90 L442.01,234.90 L442.54,234.90 L443.07,234.90 L443.59,234.90 L444.12,234.90 L444.65,234.90 L445.18,234.90 L445.71,234.90 L446.24,234.90 L446.77,234.90 L447.30,234.90 L447.83,234.90 L448.36,234.90 L448.89,234.90 L449.42,234.90 L449.95,234.90 L450.48,234.90 L451.01,234.90 L451.54,234.90 L452.07,234.90 L452.60,234.90 L453.13,234.90 L453.66,234.90 L454.19,234.90 L454.72,234.90 L455.25,234.90 L455.78,234.90 L456.31,234.90 L456.83,234.90 L457.36,234.90 L457.89,234.90 L458.42,234.90 L458.95,234.90 L459.48,234.90 L460.01,234.90 L460.54,234.90 L461.07,234.90 L461.60,234.90 L462.13,234.90 L462.66,234.90 L463.19,234.90 L463.72,234.90 L464.25,234.90 L464.78,234.90 L465.31,234.90 L465.84,234.90 L466.37,234.90 L466.90,234.90 L467.43,234.90 L467.96,234.90 L468.49,234.90 L469.01,234.90 L469.54,234.90 L470.07,234.90 L470.60,234.90 L471.13,234.90 L471.66,234.90 L472.19,234.90 L472.72,234.90 L473.25,234.90 L473.78,234.90 L474.31,234.90 L474.84,234.90 L475.37,234.90 L475.90,234.90 L476.43,234.90 L476.96,234.90 L477.49,234.90 L478.02,234.90 L478.55,234.90 L479.08,234.90 L479.61,234.90 L480.14,234.90 L480.67,234.90 L481.20,234.90 L481.73,234.90 L482.25,234.90 L482.78,234.90 L483.31,234.90 L483.84,234.90 L484.37,234.90 L484.90,234.90 L485.43,234.90 L485.96,234.90 L486.49,234.90 L487.02,234.90 L487.55,234.90 L488.08,234.90 L488.61,234.90 L489.14,234.90 L489.67,234.90 L490.20,234.90 L490.73,234.90 L491.26,234.90 L491.79,234.90 L492.32,234.90 L492.85,234.90 L493.38,234.90 L493.91,234.90 L494.44,234.90 L494.96,234.90 L495.49,234.90 L496.02,234.90 L496.55,234.90 L497.08,234.90 L497.61,234.90 L498.14,234.90 L498.67,234.90 L499.20,234.90 L499.73,234.90 L500.26,234.90 L500.79,234.90 L501.32,234.90 L501.85,234.90 L502.38,234.90 L502.91,234.90 L503.44,234.90 L503.97,234.90 L504.50,234.90 L505.03,234.90 L505.56,234.90 L506.09,234.90 L506.62,234.90 L507.14,234.90 L507.67,234.90 L508.20,234.90 L508.73,234.90 L509.26,234.90 L509.79,234.90 L510.32,234.90 L510.85,234.90 L511.38,234.90 L511.91,234.90 L512.44,234.90 L512.97,234.90 L513.50,234.90" fill="none" stroke="#8c5478" stroke-width="1.3" stroke-dasharray="1.6,1.6" stroke-linejoin="round" opacity="1.0"/>
<line x1="386.4" y1="234.9" x2="513.5" y2="234.9" stroke="#262626" stroke-width="1.2"/>
<line x1="433.2" y1="169.9" x2="442.7" y2="169.9" stroke="#1e1e1e" stroke-width="1.1"/><text x="447.5" y="173.09" letter-spacing="0.1" font-family="'Liberation Sans', sans-serif" font-size="7.2"  fill="#111" stroke="#111" stroke-width="0.18">II:2</text><line x1="433.2" y1="179.9" x2="442.7" y2="179.9" stroke="#8c5478" stroke-width="1.1" stroke-dasharray="2.5,1.6"/><text x="447.5" y="183.09" letter-spacing="0.1" font-family="'Liberation Sans', sans-serif" font-size="7.2"  fill="#111" stroke="#111" stroke-width="0.18">II:2 + α-TFPI</text><line x1="433.2" y1="189.7" x2="442.7" y2="189.7" stroke="#74a848" stroke-width="1.1"/><text x="447.5" y="192.89" letter-spacing="0.1" font-family="'Liberation Sans', sans-serif" font-size="7.2"  fill="#111" stroke="#111" stroke-width="0.18">II:2 + α-PS</text><line x1="433.2" y1="199.5" x2="442.7" y2="199.5" stroke="#5050c8" stroke-width="1.1"/><text x="447.5" y="202.69" letter-spacing="0.1" font-family="'Liberation Sans', sans-serif" font-size="7.2"  fill="#111" stroke="#111" stroke-width="0.18">II:2 + α-TFPI + α-PS</text>
<g stroke="#262626" stroke-width="1.2" fill="none"><line x1="32.2" y1="282.0" x2="32.2" y2="367.0" /><line x1="30.000000000000004" y1="367.00" x2="32.2" y2="367.00" /><line x1="30.000000000000004" y1="345.75" x2="32.2" y2="345.75" /><line x1="30.000000000000004" y1="324.50" x2="32.2" y2="324.50" /><line x1="30.000000000000004" y1="303.25" x2="32.2" y2="303.25" /><line x1="30.000000000000004" y1="282.00" x2="32.2" y2="282.00" /><line x1="32.2" y1="367.0" x2="159.2" y2="367.0" /><line x1="32.20" y1="367.0" x2="32.20" y2="369.2" /><line x1="74.53" y1="367.0" x2="74.53" y2="369.2" /><line x1="116.87" y1="367.0" x2="116.87" y2="369.2" /><line x1="159.20" y1="367.0" x2="159.20" y2="369.2" /></g>
<g font-family="'Liberation Sans', sans-serif" font-weight="bold" font-size="6.5" fill="#111" stroke="#111" stroke-width="0.1"><text x="29.20" y="369.60" text-anchor="end">0</text><text x="29.20" y="348.35" text-anchor="end">100</text><text x="29.20" y="327.10" text-anchor="end">200</text><text x="29.20" y="305.85" text-anchor="end">300</text><text x="29.20" y="284.60" text-anchor="end">400</text><text x="32.20" y="376.85" text-anchor="middle">0</text><text x="74.53" y="376.85" text-anchor="middle">20</text><text x="116.87" y="376.85" text-anchor="middle">40</text><text x="159.20" y="376.85" text-anchor="middle">60</text></g>
<text transform="translate(14.60,324.90) rotate(-90)" text-anchor="middle" font-family="'Liberation Sans', sans-serif" font-weight="bold" font-size="6.9" fill="#000" stroke="#000" stroke-width="0.15">FIIa (nM)</text>
<text x="96.20" y="385.90" text-anchor="middle" font-family="'Liberation Sans', sans-serif" font-weight="bold" font-size="6.9" fill="#000" stroke="#000" stroke-width="0.15">Time (min)</text>
<path d="M32.20,367.00 L159.20,367.00" fill="none" stroke="#1e1e1e" stroke-width="1.3" stroke-linejoin="round" opacity="1.0"/>
<path d="M32.20,367.00 L32.73,367.00 L33.26,367.00 L33.79,367.00 L34.32,367.00 L34.85,367.00 L35.38,367.00 L35.90,367.00 L36.43,367.00 L36.96,367.00 L37.49,367.00 L38.02,367.00 L38.55,367.00 L39.08,367.00 L39.61,367.00 L40.14,367.00 L40.67,367.00 L41.20,367.00 L41.73,367.00 L42.25,367.00 L42.78,367.00 L43.31,367.00 L43.84,367.00 L44.37,367.00 L44.90,367.00 L45.43,367.00 L45.96,367.00 L46.49,367.00 L47.02,367.00 L47.55,367.00 L48.08,367.00 L48.60,367.00 L49.13,367.00 L49.66,367.00 L50.19,367.00 L50.72,367.00 L51.25,367.00 L51.78,367.00 L52.31,367.00 L52.84,367.00 L53.37,367.00 L53.90,367.00 L54.42,367.00 L54.95,367.00 L55.48,367.00 L56.01,367.00 L56.54,367.00 L57.07,367.00 L57.60,367.00 L58.13,367.00 L58.66,367.00 L59.19,366.89 L59.72,366.60 L60.25,366.22 L60.77,365.81 L61.30,365.45 L61.83,365.08 L62.36,364.69 L62.89,364.28 L63.42,363.87 L63.95,363.47 L64.48,363.09 L65.01,362.75 L65.54,362.47 L66.07,362.24 L66.60,362.02 L67.12,361.81 L67.65,361.61 L68.18,361.43 L68.71,361.27 L69.24,361.16 L69.77,361.08 L70.30,361.05 L70.83,361.05 L71.36,361.05 L71.89,361.05 L72.42,361.05 L72.95,361.05 L73.47,361.05 L74.00,361.05 L74.53,361.05 L75.06,361.05 L75.59,361.05 L76.12,361.05 L76.65,361.05 L77.18,361.05 L77.71,361.05 L78.24,361.05 L78.77,361.06 L79.30,361.09 L79.82,361.13 L80.35,361.19 L80.88,361.25 L81.41,361.33 L81.94,361.41 L82.47,361.49 L83.00,361.58 L83.53,361.67 L84.06,361.76 L84.59,361.84 L85.12,361.92 L85.65,361.99 L86.17,362.06 L86.70,362.13 L87.23,362.19 L87.76,362.26 L88.29,362.33 L88.82,362.39 L89.35,362.46 L89.88,362.53 L90.41,362.60 L90.94,362.66 L91.47,362.73 L92.00,362.80 L92.53,362.86 L93.05,362.93 L93.58,362.99 L94.11,363.06 L94.64,363.12 L95.17,363.19 L95.70,363.25 L96.23,363.32 L96.76,363.39 L97.29,363.45 L97.82,363.52 L98.35,363.59 L98.88,363.65 L99.40,363.72 L99.93,363.78 L100.46,363.85 L100.99,363.91 L101.52,363.97 L102.05,364.03 L102.58,364.09 L103.11,364.14 L103.64,364.19 L104.17,364.24 L104.70,364.28 L105.22,364.32 L105.75,364.36 L106.28,364.40 L106.81,364.44 L107.34,364.47 L107.87,364.51 L108.40,364.54 L108.93,364.57 L109.46,364.60 L109.99,364.64 L110.52,364.67 L111.05,364.70 L111.57,364.74 L112.10,364.77 L112.63,364.81 L113.16,364.85 L113.69,364.89 L114.22,364.94 L114.75,364.98 L115.28,365.03 L115.81,365.08 L116.34,365.14 L116.87,365.19 L117.40,365.24 L117.92,365.30 L118.45,365.35 L118.98,365.40 L119.51,365.46 L120.04,365.51 L120.57,365.55 L121.10,365.60 L121.63,365.64 L122.16,365.68 L122.69,365.72 L123.22,365.75 L123.75,365.78 L124.27,365.81 L124.80,365.84 L125.33,365.86 L125.86,365.89 L126.39,365.91 L126.92,365.93 L127.45,365.96 L127.98,365.98 L128.51,366.00 L129.04,366.02 L129.57,366.05 L130.10,366.07 L130.62,366.09 L131.15,366.11 L131.68,366.14 L132.21,366.17 L132.74,366.19 L133.27,366.22 L133.80,366.25 L134.33,366.28 L134.86,366.31 L135.39,366.34 L135.92,366.37 L136.45,366.40 L136.97,366.44 L137.50,366.47 L138.03,366.50 L138.56,366.52 L139.09,366.55 L139.62,366.58 L140.15,366.60 L140.68,366.63 L141.21,366.65 L141.74,366.66 L142.27,366.68 L142.80,366.70 L143.32,366.71 L143.85,366.72 L144.38,366.74 L144.91,366.75 L145.44,366.76 L145.97,366.77 L146.50,366.78 L147.03,366.79 L147.56,366.81 L148.09,366.82 L148.62,366.83 L149.15,366.83 L149.67,366.84 L150.20,366.85 L150.73,366.86 L151.26,366.87 L151.79,366.88 L152.32,366.89 L152.85,366.90 L153.38,366.90 L153.91,366.91 L154.44,366.92 L154.97,366.93 L155.50,366.94 L156.02,366.94 L156.55,366.95 L157.08,366.96 L157.61,366.97 L158.14,366.98 L158.67,366.99 L159.20,367.00" fill="none" stroke="#74a848" stroke-width="1.3" stroke-linejoin="round" opacity="1.0"/>
<path d="M32.20,367.00 L32.73,367.00 L33.26,367.00 L33.79,367.00 L34.32,367.00 L34.85,367.00 L35.38,367.00 L35.90,367.00 L36.43,367.00 L36.96,366.97 L37.49,366.14 L38.02,365.11 L38.55,363.94 L39.08,362.59 L39.61,361.09 L40.14,359.44 L40.67,357.47 L41.20,355.26 L41.73,352.99 L42.25,350.81 L42.78,348.67 L43.31,346.51 L43.84,344.38 L44.37,342.32 L44.90,340.27 L45.43,338.12 L45.96,336.13 L46.49,334.54 L47.02,333.44 L47.55,332.43 L48.08,331.50 L48.60,330.71 L49.13,330.09 L49.66,329.71 L50.19,329.60 L50.72,329.74 L51.25,330.07 L51.78,330.56 L52.31,331.19 L52.84,331.94 L53.37,332.78 L53.90,333.69 L54.42,334.77 L54.95,336.45 L55.48,338.52 L56.01,340.69 L56.54,342.74 L57.07,344.96 L57.60,347.24 L58.13,349.35 L58.66,351.06 L59.19,352.43 L59.72,353.67 L60.25,354.79 L60.77,355.80 L61.30,356.72 L61.83,357.55 L62.36,358.31 L62.89,359.00 L63.42,359.63 L63.95,360.22 L64.48,360.78 L65.01,361.31 L65.54,361.82 L66.07,362.32 L66.60,362.84 L67.12,363.37 L67.65,363.88 L68.18,364.35 L68.71,364.76 L69.24,365.09 L69.77,365.33 L70.30,365.54 L70.83,365.73 L71.36,365.90 L71.89,366.05 L72.42,366.18 L72.95,366.28 L73.47,366.36 L74.00,366.43 L74.53,366.49 L75.06,366.54 L75.59,366.59 L76.12,366.64 L76.65,366.68 L77.18,366.73 L77.71,366.77 L78.24,366.80 L78.77,366.80 L79.30,366.80 L79.82,366.79 L80.35,366.78 L80.88,366.77 L81.41,366.76 L81.94,366.73 L82.47,366.69 L83.00,366.64 L83.53,366.58 L84.06,366.52 L84.59,366.46 L85.12,366.39 L85.65,366.32 L86.17,366.32 L86.70,366.31 L87.23,366.30 L87.76,366.32 L88.29,366.34 L88.82,366.36 L89.35,366.38 L89.88,366.43 L90.41,366.48 L90.94,366.53 L91.47,366.58 L92.00,366.63 L92.53,366.68 L93.05,366.73 L93.58,366.70 L94.11,366.65 L94.64,366.59 L95.17,366.54 L95.70,366.49 L96.23,366.44 L96.76,366.38 L97.29,366.35 L97.82,366.31 L98.35,366.28 L98.88,366.25 L99.40,366.22 L99.93,366.19 L100.46,366.16 L100.99,366.19 L101.52,366.31 L102.05,366.43 L102.58,366.55 L103.11,366.67 L103.64,366.79 L104.17,366.91 L104.70,366.98 L105.22,366.87 L105.75,366.75 L106.28,366.63 L106.81,366.52 L107.34,366.40 L107.87,366.28 L108.40,366.17 L108.93,366.18 L109.46,366.20 L109.99,366.22 L110.52,366.24 L111.05,366.25 L111.57,366.27 L112.10,366.29 L112.63,366.33 L113.16,366.39 L113.69,366.44 L114.22,366.50 L114.75,366.55 L115.28,366.60 L115.81,366.66 L116.34,366.69 L116.87,366.72 L117.40,366.75 L117.92,366.78 L118.45,366.81 L118.98,366.84 L119.51,366.86 L120.04,366.83 L120.57,366.72 L121.10,366.60 L121.63,366.48 L122.16,366.36 L122.69,366.25 L123.22,366.13 L123.75,366.05 L124.27,366.14 L124.80,366.24 L125.33,366.33 L125.86,366.42 L126.39,366.51 L126.92,366.61 L127.45,366.70 L127.98,366.73 L128.51,366.77 L129.04,366.81 L129.57,366.84 L130.10,366.88 L130.62,366.92 L131.15,366.95 L131.68,366.96 L132.21,366.96 L132.74,366.96 L133.27,366.96 L133.80,366.96 L134.33,366.96 L134.86,366.96 L135.39,366.90 L135.92,366.79 L136.45,366.68 L136.97,366.57 L137.50,366.46 L138.03,366.35 L138.56,366.24 L139.09,366.18 L139.62,366.22 L140.15,366.26 L140.68,366.29 L141.21,366.33 L141.74,366.37 L142.27,366.40 L142.80,366.43 L143.32,366.40 L143.85,366.37 L144.38,366.34 L144.91,366.31 L145.44,366.28 L145.97,366.25 L146.50,366.22 L147.03,366.23 L147.56,366.25 L148.09,366.26 L148.62,366.27 L149.15,366.28 L149.67,366.30 L150.20,366.31 L150.73,366.33 L151.26,366.36 L151.79,366.39 L152.32,366.21 L152.85,365.18 L153.38,364.57 L153.91,365.66 L154.44,366.49 L154.97,366.42 L155.50,366.36 L156.02,366.30 L156.55,366.23 L157.08,366.17 L157.61,366.11 L158.14,361.55 L158.67,362.55 L159.20,366.28" fill="none" stroke="#5050c8" stroke-width="1.3" stroke-linejoin="round" opacity="1.0"/>
<path d="M32.20,367.00 L32.73,367.00 L33.26,367.00 L33.79,367.00 L34.32,367.00 L34.85,367.00 L35.38,367.00 L35.90,367.00 L36.43,367.00 L36.96,366.97 L37.49,366.29 L38.02,365.41 L38.55,364.37 L39.08,363.17 L39.61,361.84 L40.14,360.39 L40.67,358.68 L41.20,356.79 L41.73,354.85 L42.25,352.97 L42.78,351.13 L43.31,349.27 L43.84,347.44 L44.37,345.67 L44.90,343.87 L45.43,341.97 L45.96,340.22 L46.49,338.88 L47.02,338.08 L47.55,337.39 L48.08,336.77 L48.60,336.25 L49.13,335.86 L49.66,335.62 L50.19,335.55 L50.72,335.76 L51.25,336.20 L51.78,336.82 L52.31,337.52 L52.84,338.25 L53.37,339.15 L53.90,340.27 L54.42,341.52 L54.95,342.84 L55.48,344.16 L56.01,345.64 L56.54,347.24 L57.07,348.89 L57.60,350.52 L58.13,352.04 L58.66,353.40 L59.19,354.64 L59.72,355.83 L60.25,356.94 L60.77,357.93 L61.30,358.78 L61.83,359.47 L62.36,360.08 L62.89,360.63 L63.42,361.13 L63.95,361.60 L64.48,362.05 L65.01,362.51 L65.54,362.97 L66.07,363.41 L66.60,363.84 L67.12,364.24 L67.65,364.58 L68.18,364.88 L68.71,365.13 L69.24,365.37 L69.77,365.59 L70.30,365.80 L70.83,365.99 L71.36,366.14 L71.89,366.27 L72.42,366.36 L72.95,366.44 L73.47,366.50 L74.00,366.57 L74.53,366.63 L75.06,366.69 L75.59,366.74 L76.12,366.78 L76.65,366.82 L77.18,366.85 L77.71,366.87 L78.24,366.89 L78.77,366.89 L79.30,366.90 L79.82,366.90 L80.35,366.90 L80.88,366.90 L81.41,366.90 L81.94,366.90 L82.47,366.91 L83.00,366.91 L83.53,366.91 L84.06,366.91 L84.59,366.91 L85.12,366.91 L85.65,366.92 L86.17,366.92 L86.70,366.92 L87.23,366.92 L87.76,366.92 L88.29,366.92 L88.82,366.92 L89.35,366.93 L89.88,366.93 L90.41,366.93 L90.94,366.93 L91.47,366.93 L92.00,366.93 L92.53,366.93 L93.05,366.93 L93.58,366.94 L94.11,366.94 L94.64,366.94 L95.17,366.94 L95.70,366.94 L96.23,366.94 L96.76,366.94 L97.29,366.94 L97.82,366.94 L98.35,366.95 L98.88,366.95 L99.40,366.95 L99.93,366.95 L100.46,366.95 L100.99,366.95 L101.52,366.95 L102.05,366.95 L102.58,366.95 L103.11,366.95 L103.64,366.95 L104.17,366.95 L104.70,366.96 L105.22,366.96 L105.75,366.96 L106.28,366.96 L106.81,366.96 L107.34,366.96 L107.87,366.96 L108.40,366.96 L108.93,366.96 L109.46,366.96 L109.99,366.96 L110.52,366.96 L111.05,366.96 L111.57,366.96 L112.10,366.96 L112.63,366.96 L113.16,366.96 L113.69,366.97 L114.22,366.97 L114.75,366.97 L115.28,366.97 L115.81,366.97 L116.34,366.97 L116.87,366.97 L117.40,366.97 L117.92,366.97 L118.45,366.97 L118.98,366.97 L119.51,366.97 L120.04,366.97 L120.57,366.97 L121.10,366.97 L121.63,366.97 L122.16,366.97 L122.69,366.97 L123.22,366.97 L123.75,366.97 L124.27,366.97 L124.80,366.97 L125.33,366.97 L125.86,366.97 L126.39,366.97 L126.92,366.97 L127.45,366.98 L127.98,366.98 L128.51,366.98 L129.04,366.98 L129.57,366.98 L130.10,366.98 L130.62,366.98 L131.15,366.98 L131.68,366.98 L132.21,366.98 L132.74,366.98 L133.27,366.98 L133.80,366.98 L134.33,366.98 L134.86,366.98 L135.39,366.98 L135.92,366.98 L136.45,366.98 L136.97,366.98 L137.50,366.98 L138.03,366.98 L138.56,366.98 L139.09,366.98 L139.62,366.98 L140.15,366.98 L140.68,366.98 L141.21,366.98 L141.74,366.98 L142.27,366.98 L142.80,366.98 L143.32,366.98 L143.85,366.99 L144.38,366.99 L144.91,366.99 L145.44,366.99 L145.97,366.99 L146.50,366.99 L147.03,366.99 L147.56,366.99 L148.09,366.99 L148.62,366.99 L149.15,366.99 L149.67,366.99 L150.20,366.99 L150.73,366.99 L151.26,366.99 L151.79,366.99 L152.32,366.99 L152.85,366.99 L153.38,366.99 L153.91,366.99 L154.44,366.99 L154.97,366.99 L155.50,367.00 L156.02,367.00 L156.55,367.00 L157.08,367.00 L157.61,367.00 L158.14,367.00 L158.67,367.00 L159.20,367.00" fill="none" stroke="#b04040" stroke-width="1.3" stroke-dasharray="1.6,1.6" stroke-linejoin="round" opacity="1.0"/>
<line x1="32.2" y1="367.0" x2="159.2" y2="367.0" stroke="#262626" stroke-width="1.2"/>
<line x1="80.5" y1="302.3" x2="89.6" y2="302.3" stroke="#1e1e1e" stroke-width="1.1"/><text x="94.2" y="304.89" letter-spacing="0.12" font-family="'Liberation Sans', sans-serif" font-size="7.2"  fill="#111" stroke="#111" stroke-width="0.18">III:1</text><line x1="80.5" y1="312.3" x2="89.6" y2="312.3" stroke="#b04040" stroke-width="1.1" stroke-dasharray="2.5,1.6"/><text x="94.2" y="314.89" letter-spacing="0.12" font-family="'Liberation Sans', sans-serif" font-size="7.2"  fill="#111" stroke="#111" stroke-width="0.18">III:1 + α-TFPI</text><line x1="80.5" y1="322.4" x2="89.6" y2="322.4" stroke="#74a848" stroke-width="1.1"/><text x="94.2" y="324.99" letter-spacing="0.12" font-family="'Liberation Sans', sans-serif" font-size="7.2"  fill="#111" stroke="#111" stroke-width="0.18">III:1 + α-PS</text><line x1="80.5" y1="332.5" x2="89.6" y2="332.5" stroke="#5050c8" stroke-width="1.1"/><text x="94.2" y="335.09" letter-spacing="0.12" font-family="'Liberation Sans', sans-serif" font-size="7.2"  fill="#111" stroke="#111" stroke-width="0.18">III:1 + α-TFPI + α-PS</text></svg>
</body></html>
